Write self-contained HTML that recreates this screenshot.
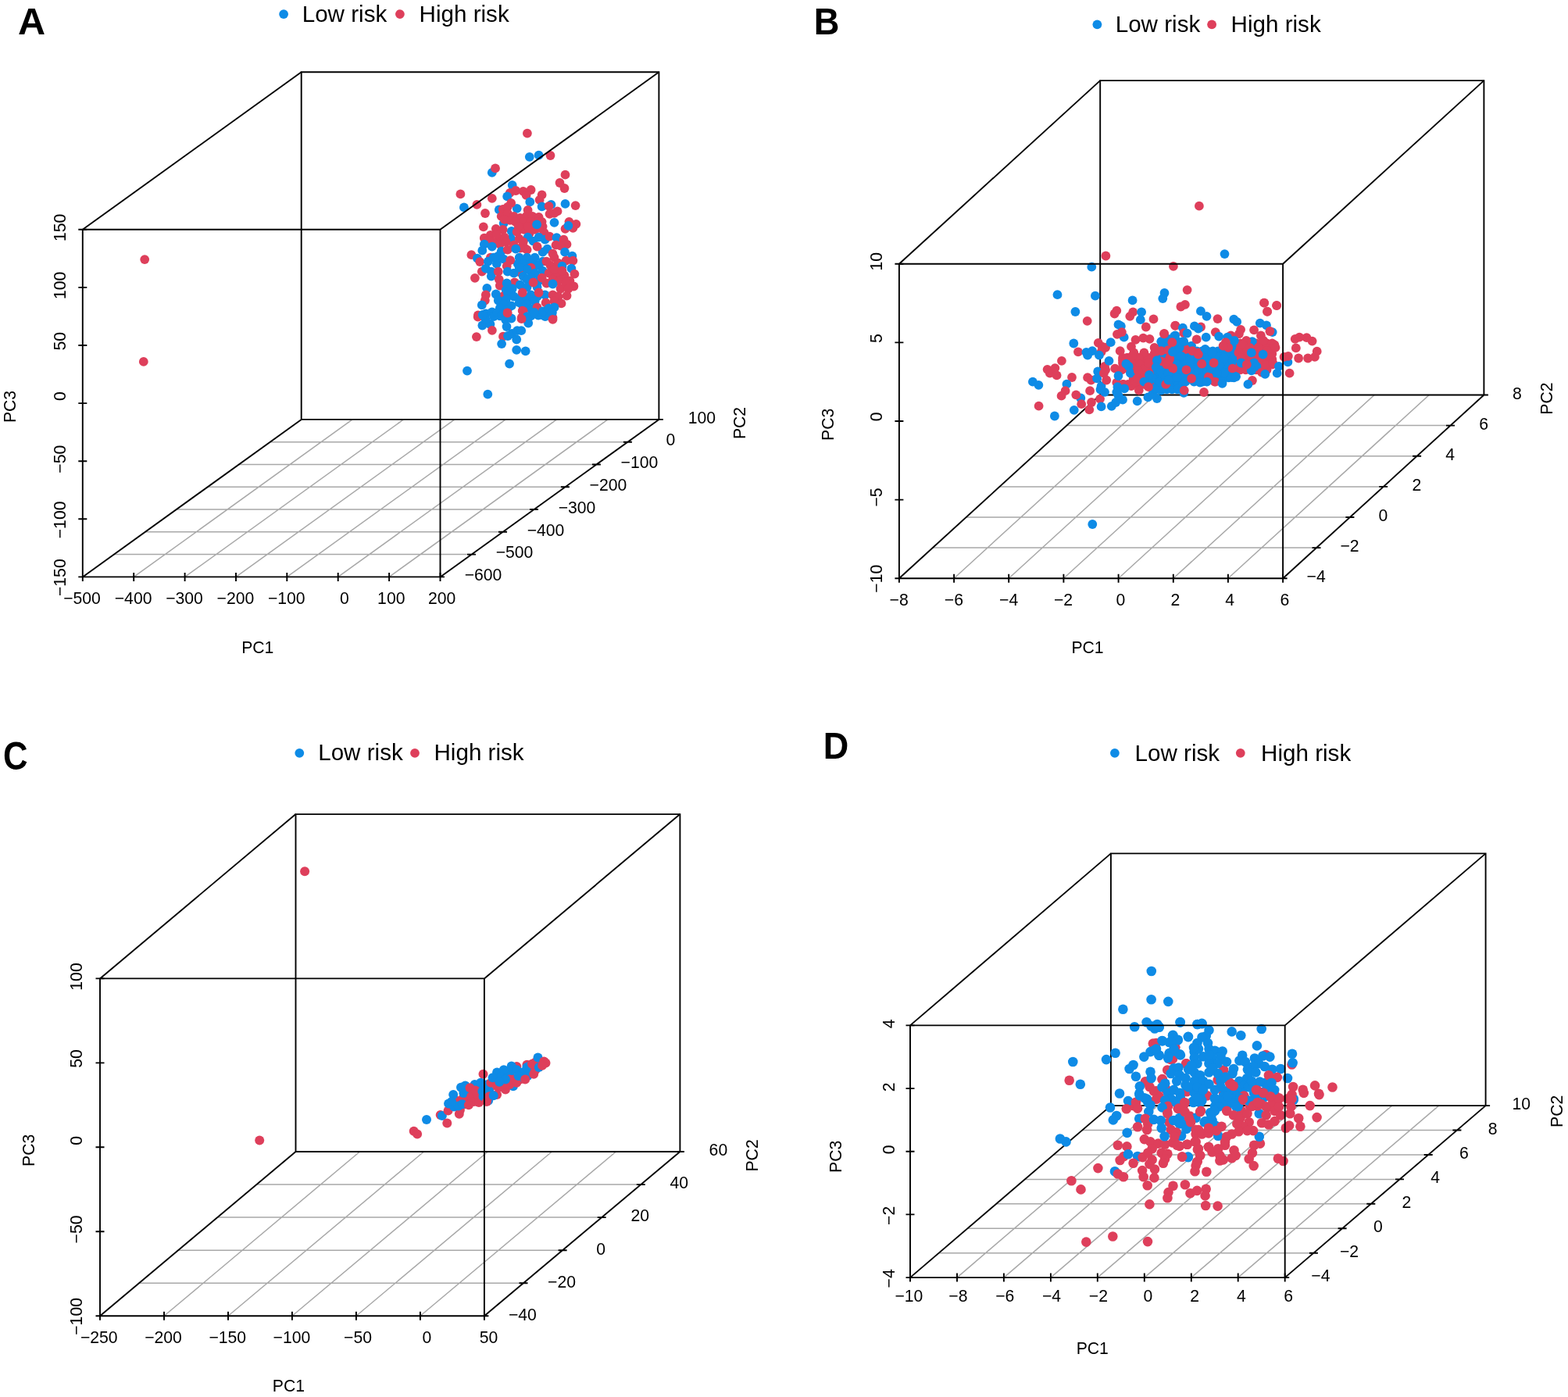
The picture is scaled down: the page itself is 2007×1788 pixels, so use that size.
<!DOCTYPE html>
<html lang="en">
<head>
<meta charset="utf-8">
<title>PCA 3D scatter plots: low risk vs high risk</title>
<style>
html,body{margin:0;padding:0;background:#fff;}
body{width:2007px;height:1788px;overflow:hidden;}
svg{display:block;}
text{font-family:"Liberation Sans",Arial,Helvetica,sans-serif;fill:#000;}
.grid{fill:none;stroke:#A8A8A8;stroke-width:1.5;}
.ax{fill:none;stroke:#000;stroke-width:1.9;stroke-linecap:butt;stroke-linejoin:miter;}
.b{fill:#0E8BE6;}
.r{fill:#DE3F5B;}
.tk text{font-size:21.2px;text-anchor:middle;}
.tl{font-size:21.2px;}
.tc{text-anchor:middle;}
.pl{font-size:46.6px;font-weight:bold;}
.lg{font-size:29.6px;}
</style>
</head>
<body>
<svg xmlns="http://www.w3.org/2000/svg" width="2007" height="1788" viewBox="0 0 2007 1788">
<rect width="2007" height="1788" fill="#fff"/>
<g id="panel-A">
<path class="grid" d="M145.8 709.6H603.5M185.8 680.8H643.5M225.8 652H683.5M265.7 623.3H723.4M305.7 594.5H763.4M345.7 565.7H803.4M171.2 738.4L451.1 536.9M236.6 738.4L516.5 536.9M302 738.4L581.9 536.9M367.3 738.4L647.2 536.9M432.7 738.4L712.6 536.9M498.1 738.4L778 536.9"/>
<path class="ax" d="M385.7 536.9V92.3H843.4V536.9ZM105.8 738.4L385.7 536.9M563.5 738.4L843.4 536.9M105.8 738.4H563.5M105.8 738.4V293.8M105.8 732.9V743.9M171.2 732.9V743.9M236.6 732.9V743.9M302 732.9V743.9M367.3 732.9V743.9M432.7 732.9V743.9M498.1 732.9V743.9M563.5 732.9V743.9M100.3 738.4H111.3M100.3 664.3H111.3M100.3 590.2H111.3M100.3 516.1H111.3M100.3 442H111.3M100.3 367.9H111.3M100.3 293.8H111.3M558 738.4H569M598 709.6H609M638 680.8H649M678 652H689M717.9 623.3H728.9M757.9 594.5H768.9M797.9 565.7H808.9M837.9 536.9H848.9"/>
<g class="pts">
<circle cx="185.2" cy="332.1" r="5.9" class="r"/>
<circle cx="183.8" cy="462.9" r="5.9" class="r"/>
<circle cx="674.9" cy="170.6" r="5.9" class="r"/>
<circle cx="677.8" cy="200.8" r="5.9" class="b"/>
<circle cx="689.6" cy="198.6" r="5.9" class="b"/>
<circle cx="704.5" cy="199" r="5.9" class="r"/>
<circle cx="629.8" cy="220.9" r="5.9" class="b"/>
<circle cx="634" cy="215.4" r="5.9" class="r"/>
<circle cx="723.5" cy="223.7" r="5.9" class="r"/>
<circle cx="655.7" cy="237" r="5.9" class="b"/>
<circle cx="716.5" cy="234" r="5.9" class="r"/>
<circle cx="722.5" cy="241" r="5.9" class="r"/>
<circle cx="652.7" cy="246.9" r="5.9" class="r"/>
<circle cx="660.2" cy="244" r="5.9" class="r"/>
<circle cx="669.7" cy="244.9" r="5.9" class="r"/>
<circle cx="679.6" cy="243" r="5.9" class="r"/>
<circle cx="673.6" cy="249.9" r="5.9" class="r"/>
<circle cx="649.2" cy="251.4" r="5.9" class="b"/>
<circle cx="589.4" cy="248.4" r="5.9" class="r"/>
<circle cx="629.8" cy="253.9" r="5.9" class="r"/>
<circle cx="693.6" cy="249.4" r="5.9" class="r"/>
<circle cx="690.6" cy="255.9" r="5.9" class="r"/>
<circle cx="593.9" cy="265.4" r="5.9" class="b"/>
<circle cx="610.4" cy="261.9" r="5.9" class="r"/>
<circle cx="678.3" cy="258.4" r="5.9" class="b"/>
<circle cx="705.5" cy="261.9" r="5.9" class="b"/>
<circle cx="693.6" cy="264.4" r="5.9" class="b"/>
<circle cx="702.5" cy="263.9" r="5.9" class="r"/>
<circle cx="723.5" cy="260.9" r="5.9" class="b"/>
<circle cx="736.6" cy="263.1" r="5.9" class="r"/>
<circle cx="638.8" cy="268.4" r="5.9" class="b"/>
<circle cx="661.7" cy="266.9" r="5.9" class="b"/>
<circle cx="654.2" cy="259.9" r="5.9" class="r"/>
<circle cx="643.7" cy="267.9" r="5.9" class="r"/>
<circle cx="649.7" cy="264.9" r="5.9" class="r"/>
<circle cx="675.6" cy="268.9" r="5.9" class="r"/>
<circle cx="713.5" cy="270.4" r="5.9" class="r"/>
<circle cx="703.5" cy="273.8" r="5.9" class="r"/>
<circle cx="709.5" cy="272.9" r="5.9" class="r"/>
<circle cx="621" cy="273" r="5.9" class="r"/>
<circle cx="644.7" cy="285.8" r="5.9" class="b"/>
<circle cx="641.7" cy="276.8" r="5.9" class="r"/>
<circle cx="649.7" cy="272.9" r="5.9" class="r"/>
<circle cx="657.7" cy="276.8" r="5.9" class="r"/>
<circle cx="665.7" cy="278.8" r="5.9" class="r"/>
<circle cx="673.6" cy="276.8" r="5.9" class="r"/>
<circle cx="681.6" cy="276.8" r="5.9" class="r"/>
<circle cx="689.6" cy="277.8" r="5.9" class="r"/>
<circle cx="652.7" cy="281.8" r="5.9" class="r"/>
<circle cx="669.7" cy="283.8" r="5.9" class="r"/>
<circle cx="687.6" cy="283.8" r="5.9" class="r"/>
<circle cx="645.7" cy="280.8" r="5.9" class="r"/>
<circle cx="659.7" cy="283.8" r="5.9" class="r"/>
<circle cx="679.6" cy="283.8" r="5.9" class="r"/>
<circle cx="693.6" cy="283.8" r="5.9" class="r"/>
<circle cx="709.5" cy="284.8" r="5.9" class="b"/>
<circle cx="728.4" cy="283.8" r="5.9" class="r"/>
<circle cx="737.4" cy="286.8" r="5.9" class="r"/>
<circle cx="723.5" cy="292.8" r="5.9" class="r"/>
<circle cx="733.4" cy="291.8" r="5.9" class="r"/>
<circle cx="727.4" cy="288.8" r="5.9" class="b"/>
<circle cx="618.8" cy="290.3" r="5.9" class="r"/>
<circle cx="654.7" cy="295.8" r="5.9" class="b"/>
<circle cx="634.8" cy="292.8" r="5.9" class="r"/>
<circle cx="643.7" cy="293.8" r="5.9" class="r"/>
<circle cx="661.7" cy="296.8" r="5.9" class="r"/>
<circle cx="670.6" cy="293.8" r="5.9" class="r"/>
<circle cx="677.6" cy="298.8" r="5.9" class="r"/>
<circle cx="694.6" cy="289.8" r="5.9" class="r"/>
<circle cx="696.6" cy="297.8" r="5.9" class="r"/>
<circle cx="684.6" cy="293.8" r="5.9" class="r"/>
<circle cx="663.7" cy="289.8" r="5.9" class="r"/>
<circle cx="675.6" cy="289.8" r="5.9" class="r"/>
<circle cx="689.6" cy="291.8" r="5.9" class="r"/>
<circle cx="687.1" cy="287.3" r="5.9" class="b"/>
<circle cx="654.2" cy="305.7" r="5.9" class="b"/>
<circle cx="675.6" cy="303.7" r="5.9" class="b"/>
<circle cx="689.6" cy="303.7" r="5.9" class="b"/>
<circle cx="697.6" cy="306.7" r="5.9" class="b"/>
<circle cx="682.6" cy="308.7" r="5.9" class="b"/>
<circle cx="619.8" cy="304.7" r="5.9" class="r"/>
<circle cx="627.8" cy="300.8" r="5.9" class="r"/>
<circle cx="637.8" cy="305.7" r="5.9" class="r"/>
<circle cx="645.7" cy="303.7" r="5.9" class="r"/>
<circle cx="631.8" cy="310.7" r="5.9" class="r"/>
<circle cx="639.8" cy="312.7" r="5.9" class="r"/>
<circle cx="625.8" cy="307.7" r="5.9" class="r"/>
<circle cx="635.8" cy="299.8" r="5.9" class="r"/>
<circle cx="647.7" cy="309.7" r="5.9" class="r"/>
<circle cx="664.7" cy="305.7" r="5.9" class="r"/>
<circle cx="669.7" cy="309.7" r="5.9" class="r"/>
<circle cx="703.5" cy="302.7" r="5.9" class="r"/>
<circle cx="712.5" cy="304.2" r="5.9" class="b"/>
<circle cx="721.5" cy="306.7" r="5.9" class="r"/>
<circle cx="725.5" cy="312.7" r="5.9" class="r"/>
<circle cx="711.5" cy="313.7" r="5.9" class="r"/>
<circle cx="717.5" cy="314.7" r="5.9" class="r"/>
<circle cx="619.8" cy="312.7" r="5.9" class="b"/>
<circle cx="629.8" cy="315.7" r="5.9" class="b"/>
<circle cx="617.3" cy="320.7" r="5.9" class="b"/>
<circle cx="641.7" cy="321.7" r="5.9" class="b"/>
<circle cx="637.8" cy="327.7" r="5.9" class="b"/>
<circle cx="649.7" cy="319.7" r="5.9" class="r"/>
<circle cx="671.6" cy="317.7" r="5.9" class="r"/>
<circle cx="674.6" cy="319.7" r="5.9" class="r"/>
<circle cx="657.7" cy="313.7" r="5.9" class="r"/>
<circle cx="665.7" cy="317.7" r="5.9" class="r"/>
<circle cx="660.2" cy="318.7" r="5.9" class="b"/>
<circle cx="700.5" cy="318.7" r="5.9" class="b"/>
<circle cx="694.6" cy="322.7" r="5.9" class="b"/>
<circle cx="687.6" cy="315.7" r="5.9" class="r"/>
<circle cx="723" cy="322.7" r="5.9" class="b"/>
<circle cx="732.4" cy="327.7" r="5.9" class="b"/>
<circle cx="707.5" cy="324.7" r="5.9" class="r"/>
<circle cx="709.5" cy="329.7" r="5.9" class="r"/>
<circle cx="603.4" cy="326.2" r="5.9" class="r"/>
<circle cx="610.9" cy="330.6" r="5.9" class="b"/>
<circle cx="627.8" cy="329.7" r="5.9" class="r"/>
<circle cx="614.3" cy="335.1" r="5.9" class="r"/>
<circle cx="624.8" cy="334.6" r="5.9" class="b"/>
<circle cx="635.8" cy="337.6" r="5.9" class="b"/>
<circle cx="631.8" cy="329.7" r="5.9" class="b"/>
<circle cx="682.6" cy="333.6" r="5.9" class="r"/>
<circle cx="679.6" cy="335.6" r="5.9" class="b"/>
<circle cx="687.6" cy="339.6" r="5.9" class="b"/>
<circle cx="669.7" cy="344.6" r="5.9" class="b"/>
<circle cx="679.6" cy="347.6" r="5.9" class="b"/>
<circle cx="664.7" cy="329.7" r="5.9" class="b"/>
<circle cx="674.6" cy="329.7" r="5.9" class="b"/>
<circle cx="684.6" cy="329.7" r="5.9" class="b"/>
<circle cx="694.6" cy="334.6" r="5.9" class="b"/>
<circle cx="662.7" cy="337.6" r="5.9" class="b"/>
<circle cx="669.7" cy="337.6" r="5.9" class="b"/>
<circle cx="679.6" cy="337.6" r="5.9" class="b"/>
<circle cx="689.6" cy="339.6" r="5.9" class="b"/>
<circle cx="644.7" cy="331.6" r="5.9" class="b"/>
<circle cx="653.2" cy="333.1" r="5.9" class="r"/>
<circle cx="648.7" cy="340.6" r="5.9" class="r"/>
<circle cx="733.4" cy="333.6" r="5.9" class="r"/>
<circle cx="724.5" cy="333.6" r="5.9" class="r"/>
<circle cx="714.5" cy="336.6" r="5.9" class="r"/>
<circle cx="704.5" cy="339.6" r="5.9" class="r"/>
<circle cx="699.5" cy="334.6" r="5.9" class="r"/>
<circle cx="719.5" cy="340.6" r="5.9" class="b"/>
<circle cx="731.4" cy="343.6" r="5.9" class="b"/>
<circle cx="616.8" cy="347.6" r="5.9" class="r"/>
<circle cx="621.8" cy="343.6" r="5.9" class="b"/>
<circle cx="628.8" cy="347.6" r="5.9" class="b"/>
<circle cx="628.8" cy="353.6" r="5.9" class="b"/>
<circle cx="637.8" cy="347.6" r="5.9" class="r"/>
<circle cx="665.7" cy="348.6" r="5.9" class="r"/>
<circle cx="679.6" cy="342.6" r="5.9" class="r"/>
<circle cx="649.7" cy="347.6" r="5.9" class="b"/>
<circle cx="674.6" cy="344.6" r="5.9" class="b"/>
<circle cx="684.6" cy="349.6" r="5.9" class="b"/>
<circle cx="694.6" cy="346.6" r="5.9" class="b"/>
<circle cx="657.7" cy="349.6" r="5.9" class="b"/>
<circle cx="669.7" cy="353.6" r="5.9" class="b"/>
<circle cx="679.6" cy="355.6" r="5.9" class="b"/>
<circle cx="664.7" cy="342.6" r="5.9" class="b"/>
<circle cx="702.5" cy="349.6" r="5.9" class="r"/>
<circle cx="712.5" cy="351.6" r="5.9" class="r"/>
<circle cx="722.5" cy="352.6" r="5.9" class="r"/>
<circle cx="735.4" cy="350.6" r="5.9" class="r"/>
<circle cx="729.4" cy="359.5" r="5.9" class="r"/>
<circle cx="709.5" cy="344.6" r="5.9" class="r"/>
<circle cx="719.5" cy="346.6" r="5.9" class="r"/>
<circle cx="607.9" cy="355.8" r="5.9" class="r"/>
<circle cx="638.8" cy="357.6" r="5.9" class="r"/>
<circle cx="639.8" cy="365.5" r="5.9" class="r"/>
<circle cx="658.7" cy="361.5" r="5.9" class="r"/>
<circle cx="648.7" cy="362.5" r="5.9" class="b"/>
<circle cx="665.7" cy="364.5" r="5.9" class="b"/>
<circle cx="674.6" cy="357.6" r="5.9" class="b"/>
<circle cx="655.7" cy="369.5" r="5.9" class="b"/>
<circle cx="674.6" cy="367.5" r="5.9" class="b"/>
<circle cx="687.6" cy="367.5" r="5.9" class="b"/>
<circle cx="689.6" cy="359.5" r="5.9" class="b"/>
<circle cx="647.7" cy="371.5" r="5.9" class="b"/>
<circle cx="699.5" cy="362.5" r="5.9" class="r"/>
<circle cx="714.5" cy="359.5" r="5.9" class="r"/>
<circle cx="724.5" cy="361.5" r="5.9" class="r"/>
<circle cx="734.4" cy="366.5" r="5.9" class="r"/>
<circle cx="717.5" cy="369.5" r="5.9" class="r"/>
<circle cx="707.5" cy="357.6" r="5.9" class="r"/>
<circle cx="727.4" cy="369.5" r="5.9" class="r"/>
<circle cx="682.6" cy="361.5" r="5.9" class="r"/>
<circle cx="693.6" cy="355.6" r="5.9" class="r"/>
<circle cx="707.5" cy="363.5" r="5.9" class="b"/>
<circle cx="623.3" cy="369" r="5.9" class="b"/>
<circle cx="621.8" cy="377.5" r="5.9" class="r"/>
<circle cx="620.8" cy="384.5" r="5.9" class="r"/>
<circle cx="643.7" cy="379.5" r="5.9" class="r"/>
<circle cx="634.8" cy="376.5" r="5.9" class="b"/>
<circle cx="637.8" cy="384.5" r="5.9" class="b"/>
<circle cx="649.7" cy="374.5" r="5.9" class="b"/>
<circle cx="657.7" cy="379.5" r="5.9" class="b"/>
<circle cx="679.6" cy="377.5" r="5.9" class="b"/>
<circle cx="697.6" cy="377.5" r="5.9" class="b"/>
<circle cx="665.7" cy="381.5" r="5.9" class="b"/>
<circle cx="674.6" cy="382.5" r="5.9" class="b"/>
<circle cx="647.7" cy="383.5" r="5.9" class="b"/>
<circle cx="687.6" cy="379.5" r="5.9" class="b"/>
<circle cx="707.5" cy="377.5" r="5.9" class="r"/>
<circle cx="714.5" cy="379.5" r="5.9" class="r"/>
<circle cx="725.5" cy="378.5" r="5.9" class="r"/>
<circle cx="709.5" cy="385.5" r="5.9" class="r"/>
<circle cx="668.7" cy="374.5" r="5.9" class="r"/>
<circle cx="689.6" cy="374.5" r="5.9" class="r"/>
<circle cx="616.8" cy="390.4" r="5.9" class="b"/>
<circle cx="644.7" cy="389.4" r="5.9" class="b"/>
<circle cx="654.7" cy="391.4" r="5.9" class="b"/>
<circle cx="664.7" cy="387.4" r="5.9" class="b"/>
<circle cx="674.6" cy="389.4" r="5.9" class="b"/>
<circle cx="684.6" cy="385.5" r="5.9" class="b"/>
<circle cx="639.8" cy="394.4" r="5.9" class="b"/>
<circle cx="679.6" cy="395.4" r="5.9" class="b"/>
<circle cx="669.7" cy="393.4" r="5.9" class="b"/>
<circle cx="649.7" cy="396.4" r="5.9" class="b"/>
<circle cx="687.6" cy="393.4" r="5.9" class="r"/>
<circle cx="718.5" cy="388.4" r="5.9" class="r"/>
<circle cx="709.5" cy="393.4" r="5.9" class="b"/>
<circle cx="699.5" cy="397.4" r="5.9" class="b"/>
<circle cx="698.6" cy="387.4" r="5.9" class="r"/>
<circle cx="611.9" cy="403.4" r="5.9" class="r"/>
<circle cx="621.8" cy="401.4" r="5.9" class="b"/>
<circle cx="629.8" cy="399.4" r="5.9" class="b"/>
<circle cx="639.8" cy="404.4" r="5.9" class="b"/>
<circle cx="669.7" cy="398.4" r="5.9" class="r"/>
<circle cx="679.6" cy="404.4" r="5.9" class="b"/>
<circle cx="694.6" cy="403.4" r="5.9" class="b"/>
<circle cx="649.4" cy="400.4" r="5.9" class="r"/>
<circle cx="667.7" cy="406.4" r="5.9" class="r"/>
<circle cx="707.5" cy="406.4" r="5.9" class="r"/>
<circle cx="668.7" cy="397.7" r="5.9" class="r"/>
<circle cx="611.7" cy="405.6" r="5.9" class="r"/>
<circle cx="617.4" cy="416.5" r="5.9" class="b"/>
<circle cx="627.5" cy="415" r="5.9" class="b"/>
<circle cx="621.5" cy="409" r="5.9" class="b"/>
<circle cx="632" cy="405.2" r="5.9" class="b"/>
<circle cx="617.7" cy="403" r="5.9" class="b"/>
<circle cx="636.5" cy="400" r="5.9" class="b"/>
<circle cx="642.5" cy="403.7" r="5.9" class="b"/>
<circle cx="647" cy="409" r="5.9" class="b"/>
<circle cx="654.5" cy="407.5" r="5.9" class="b"/>
<circle cx="648.5" cy="418" r="5.9" class="b"/>
<circle cx="629.9" cy="422.8" r="5.9" class="r"/>
<circle cx="649.6" cy="400.7" r="5.9" class="r"/>
<circle cx="676.2" cy="413.5" r="5.9" class="b"/>
<circle cx="674.7" cy="405.2" r="5.9" class="b"/>
<circle cx="667.6" cy="408.2" r="5.9" class="r"/>
<circle cx="689" cy="403.7" r="5.9" class="b"/>
<circle cx="697.9" cy="405.2" r="5.9" class="b"/>
<circle cx="683.7" cy="400" r="5.9" class="b"/>
<circle cx="694.9" cy="398.5" r="5.9" class="b"/>
<circle cx="702.4" cy="394.7" r="5.9" class="b"/>
<circle cx="706.9" cy="400" r="5.9" class="b"/>
<circle cx="707.5" cy="408.8" r="5.9" class="r"/>
<circle cx="644" cy="430.7" r="5.9" class="r"/>
<circle cx="650" cy="430" r="5.9" class="b"/>
<circle cx="655.2" cy="427" r="5.9" class="b"/>
<circle cx="662" cy="423.2" r="5.9" class="b"/>
<circle cx="667.2" cy="423.2" r="5.9" class="b"/>
<circle cx="661.2" cy="434.5" r="5.9" class="b"/>
<circle cx="609.9" cy="431.1" r="5.9" class="r"/>
<circle cx="642.1" cy="440.1" r="5.9" class="b"/>
<circle cx="661.2" cy="447.8" r="5.9" class="b"/>
<circle cx="672.7" cy="449.3" r="5.9" class="b"/>
<circle cx="652.1" cy="465.6" r="5.9" class="b"/>
<circle cx="598" cy="474.6" r="5.9" class="b"/>
<circle cx="624.3" cy="504.6" r="5.9" class="b"/>
</g>
<path class="ax" d="M105.8 293.8H563.5V738.4M105.8 293.8L385.7 92.3M563.5 293.8L843.4 92.3"/>
<g class="tk">
<text x="105" y="773.4">−500</text>
<text x="170.6" y="773.4">−400</text>
<text x="236" y="773.4">−300</text>
<text x="301.4" y="773.4">−200</text>
<text x="366.8" y="773.4">−100</text>
<text x="441" y="773.4">0</text>
<text x="500.8" y="773.4">100</text>
<text x="565.7" y="773.4">200</text>
<text transform="translate(83.7 739.2) rotate(-90)">−150</text>
<text transform="translate(83.7 665.4) rotate(-90)">−100</text>
<text transform="translate(83.7 587.7) rotate(-90)">−50</text>
<text transform="translate(83.7 507) rotate(-90)">0</text>
<text transform="translate(83.7 436.7) rotate(-90)">50</text>
<text transform="translate(83.7 365.4) rotate(-90)">100</text>
<text transform="translate(83.7 291.3) rotate(-90)">150</text>
<text x="618.5" y="743.1">−600</text>
<text x="658.5" y="714.3">−500</text>
<text x="698.5" y="685.5">−400</text>
<text x="738.5" y="656.7">−300</text>
<text x="778.4" y="628">−200</text>
<text x="818.4" y="599.2">−100</text>
<text x="858.4" y="570.4">0</text>
<text x="898.4" y="541.6">100</text>
</g>
<text class="tl" x="309.2" y="836.1">PC1</text>
<text class="tl tc" transform="translate(19.8 520.5) rotate(-90)">PC3</text>
<text class="tl tc" transform="translate(953.6 541.5) rotate(-90)">PC2</text>
<text class="pl" transform="translate(23.1 43.5) scale(1.043 1.025)">A</text>
<circle cx="363.1" cy="18.1" r="5.9" class="b"/>
<text class="lg" x="386.7" y="27.9">Low risk</text>
<circle cx="511.9" cy="18.1" r="5.9" class="r"/>
<text class="lg" x="536.6" y="27.9">High risk</text>
</g>
<g id="panel-B">
<path class="grid" d="M1193.8 701.1H1685M1236.7 662H1727.9M1279.6 622.9H1770.8M1322.4 583.7H1813.6M1365.3 544.6H1856.5M1221.1 740.2L1478.4 505.5M1291.2 740.2L1548.5 505.5M1361.4 740.2L1618.7 505.5M1431.6 740.2L1688.9 505.5M1501.8 740.2L1759.1 505.5M1571.9 740.2L1829.2 505.5"/>
<path class="ax" d="M1408.2 505.5V103.1H1899.4V505.5ZM1150.9 740.2L1408.2 505.5M1642.1 740.2L1899.4 505.5M1150.9 740.2H1642.1M1150.9 740.2V337.8M1150.9 734.7V745.7M1221.1 734.7V745.7M1291.2 734.7V745.7M1361.4 734.7V745.7M1431.6 734.7V745.7M1501.8 734.7V745.7M1571.9 734.7V745.7M1642.1 734.7V745.7M1145.4 740.2H1156.4M1145.4 639.6H1156.4M1145.4 539H1156.4M1145.4 438.4H1156.4M1145.4 337.8H1156.4M1636.6 740.2H1647.6M1679.5 701.1H1690.5M1722.4 662H1733.4M1765.2 622.9H1776.2M1808.1 583.7H1819.1M1851 544.6H1862M1893.9 505.5H1904.9"/>
<g class="pts">
<circle cx="1398.3" cy="671" r="5.9" class="b"/>
<circle cx="1415.4" cy="327.5" r="5.9" class="r"/>
<circle cx="1397.3" cy="341.7" r="5.9" class="b"/>
<circle cx="1501.9" cy="340.8" r="5.9" class="r"/>
<circle cx="1353.5" cy="377.2" r="5.9" class="b"/>
<circle cx="1401.9" cy="378.7" r="5.9" class="b"/>
<circle cx="1449.6" cy="384.4" r="5.9" class="b"/>
<circle cx="1490.5" cy="375" r="5.9" class="b"/>
<circle cx="1488.3" cy="382.1" r="5.9" class="b"/>
<circle cx="1534.9" cy="263.7" r="5.9" class="r"/>
<circle cx="1567.5" cy="325.1" r="5.9" class="b"/>
<circle cx="1519.6" cy="371.1" r="5.9" class="r"/>
<circle cx="1516.9" cy="389.8" r="5.9" class="r"/>
<circle cx="1511.4" cy="392.5" r="5.9" class="r"/>
<circle cx="1618" cy="387.6" r="5.9" class="r"/>
<circle cx="1634.1" cy="390.9" r="5.9" class="r"/>
<circle cx="1622.1" cy="398.7" r="5.9" class="r"/>
<circle cx="1491.1" cy="442.6" r="5.9" class="b"/>
<circle cx="1497.9" cy="442.6" r="5.9" class="b"/>
<circle cx="1504.7" cy="442.6" r="5.9" class="b"/>
<circle cx="1511.5" cy="442.6" r="5.9" class="b"/>
<circle cx="1518.3" cy="442.6" r="5.9" class="b"/>
<circle cx="1525.1" cy="442.6" r="5.9" class="b"/>
<circle cx="1565.9" cy="442.6" r="5.9" class="b"/>
<circle cx="1572.6" cy="442.6" r="5.9" class="b"/>
<circle cx="1579.4" cy="442.6" r="5.9" class="b"/>
<circle cx="1491.1" cy="449.4" r="5.9" class="b"/>
<circle cx="1497.9" cy="449.4" r="5.9" class="b"/>
<circle cx="1504.7" cy="449.4" r="5.9" class="b"/>
<circle cx="1511.5" cy="449.4" r="5.9" class="b"/>
<circle cx="1518.3" cy="449.4" r="5.9" class="b"/>
<circle cx="1525.1" cy="449.4" r="5.9" class="b"/>
<circle cx="1531.9" cy="449.4" r="5.9" class="b"/>
<circle cx="1538.7" cy="449.4" r="5.9" class="b"/>
<circle cx="1545.5" cy="449.4" r="5.9" class="b"/>
<circle cx="1552.3" cy="449.4" r="5.9" class="b"/>
<circle cx="1559.1" cy="449.4" r="5.9" class="b"/>
<circle cx="1565.9" cy="449.4" r="5.9" class="b"/>
<circle cx="1572.6" cy="449.4" r="5.9" class="b"/>
<circle cx="1579.4" cy="449.4" r="5.9" class="b"/>
<circle cx="1491.1" cy="456.2" r="5.9" class="b"/>
<circle cx="1497.9" cy="456.2" r="5.9" class="b"/>
<circle cx="1504.7" cy="456.2" r="5.9" class="b"/>
<circle cx="1511.5" cy="456.2" r="5.9" class="b"/>
<circle cx="1518.3" cy="456.2" r="5.9" class="b"/>
<circle cx="1525.1" cy="456.2" r="5.9" class="b"/>
<circle cx="1531.9" cy="456.2" r="5.9" class="b"/>
<circle cx="1538.7" cy="456.2" r="5.9" class="b"/>
<circle cx="1545.5" cy="456.2" r="5.9" class="b"/>
<circle cx="1552.3" cy="456.2" r="5.9" class="b"/>
<circle cx="1559.1" cy="456.2" r="5.9" class="b"/>
<circle cx="1565.9" cy="456.2" r="5.9" class="b"/>
<circle cx="1572.6" cy="456.2" r="5.9" class="b"/>
<circle cx="1579.4" cy="456.2" r="5.9" class="b"/>
<circle cx="1491.1" cy="463" r="5.9" class="b"/>
<circle cx="1497.9" cy="463" r="5.9" class="b"/>
<circle cx="1504.7" cy="463" r="5.9" class="b"/>
<circle cx="1511.5" cy="463" r="5.9" class="b"/>
<circle cx="1518.3" cy="463" r="5.9" class="b"/>
<circle cx="1525.1" cy="463" r="5.9" class="b"/>
<circle cx="1531.9" cy="463" r="5.9" class="b"/>
<circle cx="1538.7" cy="463" r="5.9" class="b"/>
<circle cx="1545.5" cy="463" r="5.9" class="b"/>
<circle cx="1552.3" cy="463" r="5.9" class="b"/>
<circle cx="1559.1" cy="463" r="5.9" class="b"/>
<circle cx="1565.9" cy="463" r="5.9" class="b"/>
<circle cx="1572.6" cy="463" r="5.9" class="b"/>
<circle cx="1579.4" cy="463" r="5.9" class="b"/>
<circle cx="1491.1" cy="469.8" r="5.9" class="b"/>
<circle cx="1497.9" cy="469.8" r="5.9" class="b"/>
<circle cx="1504.7" cy="469.8" r="5.9" class="b"/>
<circle cx="1511.5" cy="469.8" r="5.9" class="b"/>
<circle cx="1518.3" cy="469.8" r="5.9" class="b"/>
<circle cx="1525.1" cy="469.8" r="5.9" class="b"/>
<circle cx="1531.9" cy="469.8" r="5.9" class="b"/>
<circle cx="1538.7" cy="469.8" r="5.9" class="b"/>
<circle cx="1545.5" cy="469.8" r="5.9" class="b"/>
<circle cx="1552.3" cy="469.8" r="5.9" class="b"/>
<circle cx="1559.1" cy="469.8" r="5.9" class="b"/>
<circle cx="1565.9" cy="469.8" r="5.9" class="b"/>
<circle cx="1572.6" cy="469.8" r="5.9" class="b"/>
<circle cx="1579.4" cy="469.8" r="5.9" class="b"/>
<circle cx="1491.1" cy="476.6" r="5.9" class="b"/>
<circle cx="1497.9" cy="476.6" r="5.9" class="b"/>
<circle cx="1504.7" cy="476.6" r="5.9" class="b"/>
<circle cx="1511.5" cy="476.6" r="5.9" class="b"/>
<circle cx="1518.3" cy="476.6" r="5.9" class="b"/>
<circle cx="1525.1" cy="476.6" r="5.9" class="b"/>
<circle cx="1531.9" cy="476.6" r="5.9" class="b"/>
<circle cx="1538.7" cy="476.6" r="5.9" class="b"/>
<circle cx="1545.5" cy="476.6" r="5.9" class="b"/>
<circle cx="1552.3" cy="476.6" r="5.9" class="b"/>
<circle cx="1559.1" cy="476.6" r="5.9" class="b"/>
<circle cx="1565.9" cy="476.6" r="5.9" class="b"/>
<circle cx="1572.6" cy="476.6" r="5.9" class="b"/>
<circle cx="1579.4" cy="476.6" r="5.9" class="b"/>
<circle cx="1491.1" cy="483.4" r="5.9" class="b"/>
<circle cx="1497.9" cy="483.4" r="5.9" class="b"/>
<circle cx="1504.7" cy="483.4" r="5.9" class="b"/>
<circle cx="1511.5" cy="483.4" r="5.9" class="b"/>
<circle cx="1518.3" cy="483.4" r="5.9" class="b"/>
<circle cx="1525.1" cy="483.4" r="5.9" class="b"/>
<circle cx="1531.9" cy="483.4" r="5.9" class="b"/>
<circle cx="1538.7" cy="483.4" r="5.9" class="b"/>
<circle cx="1545.5" cy="483.4" r="5.9" class="b"/>
<circle cx="1552.3" cy="483.4" r="5.9" class="b"/>
<circle cx="1559.1" cy="483.4" r="5.9" class="b"/>
<circle cx="1565.9" cy="483.4" r="5.9" class="b"/>
<circle cx="1572.6" cy="483.4" r="5.9" class="b"/>
<circle cx="1579.4" cy="483.4" r="5.9" class="b"/>
<circle cx="1587.6" cy="439.3" r="5.9" class="r"/>
<circle cx="1594.4" cy="439.3" r="5.9" class="r"/>
<circle cx="1601.1" cy="439.3" r="5.9" class="r"/>
<circle cx="1607.9" cy="439.3" r="5.9" class="r"/>
<circle cx="1614.7" cy="439.3" r="5.9" class="r"/>
<circle cx="1621.5" cy="439.3" r="5.9" class="r"/>
<circle cx="1628.3" cy="439.3" r="5.9" class="r"/>
<circle cx="1587.6" cy="446.1" r="5.9" class="r"/>
<circle cx="1594.4" cy="446.1" r="5.9" class="r"/>
<circle cx="1601.1" cy="446.1" r="5.9" class="r"/>
<circle cx="1607.9" cy="446.1" r="5.9" class="r"/>
<circle cx="1614.7" cy="446.1" r="5.9" class="r"/>
<circle cx="1621.5" cy="446.1" r="5.9" class="r"/>
<circle cx="1628.3" cy="446.1" r="5.9" class="r"/>
<circle cx="1587.6" cy="452.9" r="5.9" class="r"/>
<circle cx="1594.4" cy="452.9" r="5.9" class="r"/>
<circle cx="1601.1" cy="452.9" r="5.9" class="r"/>
<circle cx="1607.9" cy="452.9" r="5.9" class="r"/>
<circle cx="1614.7" cy="452.9" r="5.9" class="r"/>
<circle cx="1621.5" cy="452.9" r="5.9" class="r"/>
<circle cx="1628.3" cy="452.9" r="5.9" class="r"/>
<circle cx="1587.6" cy="459.7" r="5.9" class="r"/>
<circle cx="1594.4" cy="459.7" r="5.9" class="r"/>
<circle cx="1601.1" cy="459.7" r="5.9" class="r"/>
<circle cx="1607.9" cy="459.7" r="5.9" class="r"/>
<circle cx="1614.7" cy="459.7" r="5.9" class="r"/>
<circle cx="1621.5" cy="459.7" r="5.9" class="r"/>
<circle cx="1628.3" cy="459.7" r="5.9" class="r"/>
<circle cx="1587.6" cy="466.5" r="5.9" class="r"/>
<circle cx="1594.4" cy="466.5" r="5.9" class="r"/>
<circle cx="1601.1" cy="466.5" r="5.9" class="r"/>
<circle cx="1607.9" cy="466.5" r="5.9" class="r"/>
<circle cx="1614.7" cy="466.5" r="5.9" class="r"/>
<circle cx="1621.5" cy="466.5" r="5.9" class="r"/>
<circle cx="1628.3" cy="466.5" r="5.9" class="r"/>
<circle cx="1587.6" cy="473.3" r="5.9" class="r"/>
<circle cx="1594.4" cy="473.3" r="5.9" class="r"/>
<circle cx="1601.1" cy="473.3" r="5.9" class="r"/>
<circle cx="1607.9" cy="473.3" r="5.9" class="r"/>
<circle cx="1614.7" cy="473.3" r="5.9" class="r"/>
<circle cx="1621.5" cy="473.3" r="5.9" class="r"/>
<circle cx="1486.6" cy="437.1" r="5.9" class="b"/>
<circle cx="1493.4" cy="437.1" r="5.9" class="b"/>
<circle cx="1500.2" cy="437.1" r="5.9" class="b"/>
<circle cx="1506.9" cy="437.1" r="5.9" class="b"/>
<circle cx="1513.7" cy="437.1" r="5.9" class="b"/>
<circle cx="1486.6" cy="443.9" r="5.9" class="b"/>
<circle cx="1493.4" cy="443.9" r="5.9" class="b"/>
<circle cx="1500.2" cy="443.9" r="5.9" class="b"/>
<circle cx="1506.9" cy="443.9" r="5.9" class="b"/>
<circle cx="1513.7" cy="443.9" r="5.9" class="b"/>
<circle cx="1479.8" cy="450.7" r="5.9" class="b"/>
<circle cx="1486.6" cy="450.7" r="5.9" class="b"/>
<circle cx="1493.4" cy="450.7" r="5.9" class="b"/>
<circle cx="1500.2" cy="450.7" r="5.9" class="b"/>
<circle cx="1506.9" cy="450.7" r="5.9" class="b"/>
<circle cx="1513.7" cy="450.7" r="5.9" class="b"/>
<circle cx="1479.8" cy="457.5" r="5.9" class="b"/>
<circle cx="1486.6" cy="457.5" r="5.9" class="b"/>
<circle cx="1493.4" cy="457.5" r="5.9" class="b"/>
<circle cx="1500.2" cy="457.5" r="5.9" class="b"/>
<circle cx="1506.9" cy="457.5" r="5.9" class="b"/>
<circle cx="1513.7" cy="457.5" r="5.9" class="b"/>
<circle cx="1479.8" cy="464.3" r="5.9" class="b"/>
<circle cx="1486.6" cy="464.3" r="5.9" class="b"/>
<circle cx="1493.4" cy="464.3" r="5.9" class="b"/>
<circle cx="1500.2" cy="464.3" r="5.9" class="b"/>
<circle cx="1506.9" cy="464.3" r="5.9" class="b"/>
<circle cx="1513.7" cy="464.3" r="5.9" class="b"/>
<circle cx="1479.8" cy="471.1" r="5.9" class="b"/>
<circle cx="1486.6" cy="471.1" r="5.9" class="b"/>
<circle cx="1493.4" cy="471.1" r="5.9" class="b"/>
<circle cx="1500.2" cy="471.1" r="5.9" class="b"/>
<circle cx="1506.9" cy="471.1" r="5.9" class="b"/>
<circle cx="1513.7" cy="471.1" r="5.9" class="b"/>
<circle cx="1479.8" cy="477.9" r="5.9" class="b"/>
<circle cx="1486.6" cy="477.9" r="5.9" class="b"/>
<circle cx="1493.4" cy="477.9" r="5.9" class="b"/>
<circle cx="1500.2" cy="477.9" r="5.9" class="b"/>
<circle cx="1506.9" cy="477.9" r="5.9" class="b"/>
<circle cx="1513.7" cy="477.9" r="5.9" class="b"/>
<circle cx="1479.8" cy="484.7" r="5.9" class="b"/>
<circle cx="1486.6" cy="484.7" r="5.9" class="b"/>
<circle cx="1493.4" cy="484.7" r="5.9" class="b"/>
<circle cx="1500.2" cy="484.7" r="5.9" class="b"/>
<circle cx="1506.9" cy="484.7" r="5.9" class="b"/>
<circle cx="1513.7" cy="484.7" r="5.9" class="b"/>
<circle cx="1479.8" cy="491.5" r="5.9" class="b"/>
<circle cx="1486.6" cy="491.5" r="5.9" class="b"/>
<circle cx="1493.4" cy="491.5" r="5.9" class="b"/>
<circle cx="1500.2" cy="491.5" r="5.9" class="b"/>
<circle cx="1506.9" cy="491.5" r="5.9" class="b"/>
<circle cx="1513.7" cy="491.5" r="5.9" class="b"/>
<circle cx="1479.8" cy="498.3" r="5.9" class="b"/>
<circle cx="1486.6" cy="498.3" r="5.9" class="b"/>
<circle cx="1493.4" cy="498.3" r="5.9" class="b"/>
<circle cx="1500.2" cy="498.3" r="5.9" class="b"/>
<circle cx="1506.9" cy="498.3" r="5.9" class="b"/>
<circle cx="1513.7" cy="498.3" r="5.9" class="b"/>
<circle cx="1437" cy="458" r="5.9" class="r"/>
<circle cx="1443.8" cy="458" r="5.9" class="r"/>
<circle cx="1450.6" cy="458" r="5.9" class="r"/>
<circle cx="1457.4" cy="458" r="5.9" class="r"/>
<circle cx="1464.2" cy="458" r="5.9" class="r"/>
<circle cx="1471" cy="458" r="5.9" class="r"/>
<circle cx="1437" cy="464.8" r="5.9" class="r"/>
<circle cx="1443.8" cy="464.8" r="5.9" class="r"/>
<circle cx="1450.6" cy="464.8" r="5.9" class="r"/>
<circle cx="1457.4" cy="464.8" r="5.9" class="r"/>
<circle cx="1464.2" cy="464.8" r="5.9" class="r"/>
<circle cx="1471" cy="464.8" r="5.9" class="r"/>
<circle cx="1437" cy="471.6" r="5.9" class="r"/>
<circle cx="1443.8" cy="471.6" r="5.9" class="r"/>
<circle cx="1450.6" cy="471.6" r="5.9" class="r"/>
<circle cx="1457.4" cy="471.6" r="5.9" class="r"/>
<circle cx="1464.2" cy="471.6" r="5.9" class="r"/>
<circle cx="1471" cy="471.6" r="5.9" class="r"/>
<circle cx="1450.6" cy="478.3" r="5.9" class="r"/>
<circle cx="1457.4" cy="478.3" r="5.9" class="r"/>
<circle cx="1464.2" cy="478.3" r="5.9" class="r"/>
<circle cx="1471" cy="478.3" r="5.9" class="r"/>
<circle cx="1450.6" cy="485.1" r="5.9" class="r"/>
<circle cx="1457.4" cy="485.1" r="5.9" class="r"/>
<circle cx="1464.2" cy="485.1" r="5.9" class="r"/>
<circle cx="1471" cy="485.1" r="5.9" class="r"/>
<circle cx="1437" cy="491.9" r="5.9" class="r"/>
<circle cx="1443.8" cy="491.9" r="5.9" class="r"/>
<circle cx="1450.6" cy="491.9" r="5.9" class="r"/>
<circle cx="1457.4" cy="491.9" r="5.9" class="r"/>
<circle cx="1464.2" cy="491.9" r="5.9" class="r"/>
<circle cx="1471" cy="491.9" r="5.9" class="r"/>
<circle cx="1376.4" cy="399" r="5.9" class="b"/>
<circle cx="1391.7" cy="410.8" r="5.9" class="r"/>
<circle cx="1429.3" cy="397.7" r="5.9" class="r"/>
<circle cx="1426.6" cy="401.5" r="5.9" class="r"/>
<circle cx="1450.2" cy="399.3" r="5.9" class="r"/>
<circle cx="1446.3" cy="404.8" r="5.9" class="r"/>
<circle cx="1461.1" cy="399.3" r="5.9" class="b"/>
<circle cx="1459.8" cy="409.2" r="5.9" class="b"/>
<circle cx="1476.5" cy="408.4" r="5.9" class="r"/>
<circle cx="1431.5" cy="415.4" r="5.9" class="b"/>
<circle cx="1434.8" cy="417.4" r="5.9" class="b"/>
<circle cx="1438.7" cy="431.7" r="5.9" class="b"/>
<circle cx="1435.9" cy="425.1" r="5.9" class="r"/>
<circle cx="1429.9" cy="427.8" r="5.9" class="r"/>
<circle cx="1466.8" cy="418.5" r="5.9" class="r"/>
<circle cx="1504.4" cy="416.6" r="5.9" class="r"/>
<circle cx="1490.2" cy="426.9" r="5.9" class="r"/>
<circle cx="1374.3" cy="439.5" r="5.9" class="b"/>
<circle cx="1380" cy="450.3" r="5.9" class="r"/>
<circle cx="1390.4" cy="450.8" r="5.9" class="b"/>
<circle cx="1398.1" cy="449.2" r="5.9" class="b"/>
<circle cx="1392.1" cy="454.7" r="5.9" class="b"/>
<circle cx="1405.8" cy="438.8" r="5.9" class="r"/>
<circle cx="1410.7" cy="443.7" r="5.9" class="r"/>
<circle cx="1415.1" cy="444.8" r="5.9" class="r"/>
<circle cx="1409.6" cy="450.3" r="5.9" class="r"/>
<circle cx="1406.9" cy="454.7" r="5.9" class="b"/>
<circle cx="1421.7" cy="438.2" r="5.9" class="b"/>
<circle cx="1358.9" cy="461.8" r="5.9" class="r"/>
<circle cx="1340.6" cy="472.8" r="5.9" class="r"/>
<circle cx="1350.4" cy="471.1" r="5.9" class="r"/>
<circle cx="1343.8" cy="477.7" r="5.9" class="r"/>
<circle cx="1352.6" cy="480.4" r="5.9" class="r"/>
<circle cx="1321.9" cy="488.7" r="5.9" class="b"/>
<circle cx="1329.4" cy="492.8" r="5.9" class="b"/>
<circle cx="1372" cy="483" r="5.9" class="r"/>
<circle cx="1365.4" cy="491.7" r="5.9" class="b"/>
<circle cx="1363.6" cy="500.2" r="5.9" class="r"/>
<circle cx="1358.6" cy="506.7" r="5.9" class="r"/>
<circle cx="1383.3" cy="509.5" r="5.9" class="b"/>
<circle cx="1377.3" cy="505.3" r="5.9" class="r"/>
<circle cx="1384.2" cy="517.2" r="5.9" class="r"/>
<circle cx="1392.1" cy="483.2" r="5.9" class="r"/>
<circle cx="1396.5" cy="486.5" r="5.9" class="r"/>
<circle cx="1395.1" cy="500.2" r="5.9" class="r"/>
<circle cx="1408" cy="510.6" r="5.9" class="r"/>
<circle cx="1397" cy="515" r="5.9" class="r"/>
<circle cx="1394.3" cy="524.3" r="5.9" class="r"/>
<circle cx="1374.8" cy="524.8" r="5.9" class="b"/>
<circle cx="1349.9" cy="532.5" r="5.9" class="b"/>
<circle cx="1329.6" cy="519.7" r="5.9" class="r"/>
<circle cx="1409.6" cy="520.4" r="5.9" class="b"/>
<circle cx="1422.8" cy="519.9" r="5.9" class="b"/>
<circle cx="1428.2" cy="515" r="5.9" class="b"/>
<circle cx="1437" cy="511.7" r="5.9" class="b"/>
<circle cx="1431.5" cy="506.2" r="5.9" class="b"/>
<circle cx="1455.7" cy="513.3" r="5.9" class="b"/>
<circle cx="1469.4" cy="508.4" r="5.9" class="b"/>
<circle cx="1480.9" cy="510" r="5.9" class="b"/>
<circle cx="1475.4" cy="504" r="5.9" class="b"/>
<circle cx="1486.3" cy="437.1" r="5.9" class="b"/>
<circle cx="1502.8" cy="430.6" r="5.9" class="b"/>
<circle cx="1495.1" cy="433.8" r="5.9" class="b"/>
<circle cx="1433.7" cy="449.2" r="5.9" class="r"/>
<circle cx="1453.5" cy="434.9" r="5.9" class="r"/>
<circle cx="1463.3" cy="432.7" r="5.9" class="r"/>
<circle cx="1471.5" cy="433.8" r="5.9" class="r"/>
<circle cx="1448" cy="443.7" r="5.9" class="r"/>
<circle cx="1451.3" cy="451.4" r="5.9" class="r"/>
<circle cx="1464.4" cy="451.4" r="5.9" class="r"/>
<circle cx="1457.8" cy="458" r="5.9" class="r"/>
<circle cx="1477.6" cy="444.8" r="5.9" class="r"/>
<circle cx="1486.3" cy="449.2" r="5.9" class="r"/>
<circle cx="1477.6" cy="452.5" r="5.9" class="r"/>
<circle cx="1495.1" cy="448.1" r="5.9" class="r"/>
<circle cx="1500.6" cy="438.2" r="5.9" class="r"/>
<circle cx="1405.2" cy="475.5" r="5.9" class="b"/>
<circle cx="1404.1" cy="484.3" r="5.9" class="b"/>
<circle cx="1409.6" cy="494.1" r="5.9" class="b"/>
<circle cx="1414" cy="501.8" r="5.9" class="b"/>
<circle cx="1408.5" cy="498.5" r="5.9" class="b"/>
<circle cx="1414" cy="468.9" r="5.9" class="r"/>
<circle cx="1412.9" cy="477.7" r="5.9" class="r"/>
<circle cx="1416.2" cy="486.5" r="5.9" class="r"/>
<circle cx="1415.1" cy="473.3" r="5.9" class="r"/>
<circle cx="1419.5" cy="461.8" r="5.9" class="b"/>
<circle cx="1427.2" cy="471.7" r="5.9" class="r"/>
<circle cx="1435.9" cy="473.3" r="5.9" class="r"/>
<circle cx="1429.3" cy="489.7" r="5.9" class="r"/>
<circle cx="1438.1" cy="491.9" r="5.9" class="r"/>
<circle cx="1448" cy="494.1" r="5.9" class="r"/>
<circle cx="1453.5" cy="488.7" r="5.9" class="r"/>
<circle cx="1457.8" cy="499.6" r="5.9" class="r"/>
<circle cx="1431.5" cy="481" r="5.9" class="b"/>
<circle cx="1437" cy="461.2" r="5.9" class="r"/>
<circle cx="1442.5" cy="458" r="5.9" class="r"/>
<circle cx="1449.1" cy="455.8" r="5.9" class="r"/>
<circle cx="1444.7" cy="468.9" r="5.9" class="b"/>
<circle cx="1446.9" cy="477.7" r="5.9" class="b"/>
<circle cx="1441.4" cy="465.6" r="5.9" class="b"/>
<circle cx="1458.9" cy="466.7" r="5.9" class="r"/>
<circle cx="1464.4" cy="472.2" r="5.9" class="r"/>
<circle cx="1462.2" cy="479.9" r="5.9" class="r"/>
<circle cx="1469.9" cy="464.5" r="5.9" class="r"/>
<circle cx="1456.7" cy="474.4" r="5.9" class="r"/>
<circle cx="1455.7" cy="484.3" r="5.9" class="r"/>
<circle cx="1492.9" cy="463.4" r="5.9" class="r"/>
<circle cx="1502.8" cy="468.9" r="5.9" class="r"/>
<circle cx="1497.3" cy="458" r="5.9" class="r"/>
<circle cx="1486.3" cy="462.3" r="5.9" class="r"/>
<circle cx="1480.9" cy="461.2" r="5.9" class="b"/>
<circle cx="1479.8" cy="470" r="5.9" class="b"/>
<circle cx="1486.3" cy="475.5" r="5.9" class="b"/>
<circle cx="1475.4" cy="484.3" r="5.9" class="b"/>
<circle cx="1469.9" cy="488.7" r="5.9" class="b"/>
<circle cx="1484.1" cy="488.7" r="5.9" class="b"/>
<circle cx="1491.8" cy="483.2" r="5.9" class="b"/>
<circle cx="1497.3" cy="477.7" r="5.9" class="b"/>
<circle cx="1486.3" cy="499.6" r="5.9" class="b"/>
<circle cx="1477.6" cy="497.4" r="5.9" class="b"/>
<circle cx="1471" cy="479.9" r="5.9" class="b"/>
<circle cx="1464.4" cy="488.7" r="5.9" class="b"/>
<circle cx="1469.9" cy="495.2" r="5.9" class="r"/>
<circle cx="1430.4" cy="495.2" r="5.9" class="b"/>
<circle cx="1429.3" cy="501.8" r="5.9" class="b"/>
<circle cx="1439.2" cy="497.4" r="5.9" class="b"/>
<circle cx="1502.8" cy="449.2" r="5.9" class="b"/>
<circle cx="1508.3" cy="455.8" r="5.9" class="b"/>
<circle cx="1508.3" cy="466.7" r="5.9" class="b"/>
<circle cx="1506.1" cy="483.2" r="5.9" class="b"/>
<circle cx="1502.8" cy="475.5" r="5.9" class="b"/>
<circle cx="1497.3" cy="488.7" r="5.9" class="b"/>
<circle cx="1622.1" cy="398.8" r="5.9" class="r"/>
<circle cx="1634.1" cy="391.1" r="5.9" class="r"/>
<circle cx="1618.2" cy="387.6" r="5.9" class="r"/>
<circle cx="1536.9" cy="398.2" r="5.9" class="b"/>
<circle cx="1544.5" cy="404.8" r="5.9" class="b"/>
<circle cx="1558.5" cy="408.1" r="5.9" class="r"/>
<circle cx="1579.3" cy="408.6" r="5.9" class="b"/>
<circle cx="1583.2" cy="411.9" r="5.9" class="b"/>
<circle cx="1612.8" cy="413.6" r="5.9" class="b"/>
<circle cx="1621" cy="416.3" r="5.9" class="b"/>
<circle cx="1504.2" cy="416.9" r="5.9" class="r"/>
<circle cx="1513.9" cy="419.6" r="5.9" class="b"/>
<circle cx="1537.1" cy="418.5" r="5.9" class="r"/>
<circle cx="1528.9" cy="417.4" r="5.9" class="b"/>
<circle cx="1533.8" cy="420.7" r="5.9" class="b"/>
<circle cx="1555.8" cy="425.1" r="5.9" class="r"/>
<circle cx="1588.1" cy="421.8" r="5.9" class="r"/>
<circle cx="1585.9" cy="427.3" r="5.9" class="r"/>
<circle cx="1605.1" cy="422.3" r="5.9" class="r"/>
<circle cx="1628.7" cy="425.1" r="5.9" class="b"/>
<circle cx="1625.4" cy="424" r="5.9" class="r"/>
<circle cx="1613.9" cy="429.5" r="5.9" class="r"/>
<circle cx="1617.2" cy="436" r="5.9" class="r"/>
<circle cx="1515.2" cy="426.2" r="5.9" class="r"/>
<circle cx="1519.6" cy="426.7" r="5.9" class="b"/>
<circle cx="1490" cy="427.3" r="5.9" class="r"/>
<circle cx="1504.2" cy="429.5" r="5.9" class="b"/>
<circle cx="1531.7" cy="434.4" r="5.9" class="r"/>
<circle cx="1543.7" cy="431.7" r="5.9" class="b"/>
<circle cx="1575.5" cy="429.5" r="5.9" class="r"/>
<circle cx="1560.2" cy="430.6" r="5.9" class="b"/>
<circle cx="1571.1" cy="431.7" r="5.9" class="b"/>
<circle cx="1579.9" cy="436" r="5.9" class="b"/>
<circle cx="1568.9" cy="438.2" r="5.9" class="r"/>
<circle cx="1572.2" cy="444.8" r="5.9" class="r"/>
<circle cx="1565.6" cy="442.6" r="5.9" class="r"/>
<circle cx="1602.9" cy="437.1" r="5.9" class="b"/>
<circle cx="1595.2" cy="436" r="5.9" class="r"/>
<circle cx="1590.8" cy="441.5" r="5.9" class="r"/>
<circle cx="1631.4" cy="441.5" r="5.9" class="r"/>
<circle cx="1632.5" cy="444.8" r="5.9" class="r"/>
<circle cx="1493.3" cy="466.7" r="5.9" class="r"/>
<circle cx="1501" cy="472.2" r="5.9" class="r"/>
<circle cx="1496.6" cy="461.2" r="5.9" class="r"/>
<circle cx="1517.4" cy="447" r="5.9" class="r"/>
<circle cx="1533.8" cy="451.4" r="5.9" class="r"/>
<circle cx="1526.2" cy="449.2" r="5.9" class="r"/>
<circle cx="1538.2" cy="465.6" r="5.9" class="r"/>
<circle cx="1553.6" cy="464.5" r="5.9" class="r"/>
<circle cx="1519.6" cy="472.2" r="5.9" class="r"/>
<circle cx="1547" cy="482.1" r="5.9" class="r"/>
<circle cx="1555.8" cy="488.7" r="5.9" class="r"/>
<circle cx="1492.2" cy="491.9" r="5.9" class="r"/>
<circle cx="1501" cy="450.3" r="5.9" class="b"/>
<circle cx="1511.9" cy="455.8" r="5.9" class="b"/>
<circle cx="1522.9" cy="461.2" r="5.9" class="b"/>
<circle cx="1506.4" cy="466.7" r="5.9" class="b"/>
<circle cx="1517.4" cy="472.2" r="5.9" class="b"/>
<circle cx="1495.5" cy="477.7" r="5.9" class="b"/>
<circle cx="1506.4" cy="483.2" r="5.9" class="b"/>
<circle cx="1517.4" cy="488.7" r="5.9" class="b"/>
<circle cx="1528.4" cy="477.7" r="5.9" class="b"/>
<circle cx="1533.8" cy="472.2" r="5.9" class="b"/>
<circle cx="1539.3" cy="488.7" r="5.9" class="b"/>
<circle cx="1544.8" cy="461.2" r="5.9" class="b"/>
<circle cx="1550.3" cy="472.2" r="5.9" class="b"/>
<circle cx="1555.8" cy="455.8" r="5.9" class="b"/>
<circle cx="1561.2" cy="466.7" r="5.9" class="b"/>
<circle cx="1566.7" cy="477.7" r="5.9" class="b"/>
<circle cx="1564.5" cy="488.7" r="5.9" class="b"/>
<circle cx="1577.7" cy="461.2" r="5.9" class="b"/>
<circle cx="1581" cy="455.8" r="5.9" class="b"/>
<circle cx="1509.7" cy="444.8" r="5.9" class="b"/>
<circle cx="1503.2" cy="439.3" r="5.9" class="b"/>
<circle cx="1515.2" cy="437.1" r="5.9" class="b"/>
<circle cx="1522.9" cy="468.9" r="5.9" class="b"/>
<circle cx="1533.8" cy="458" r="5.9" class="b"/>
<circle cx="1542.6" cy="447" r="5.9" class="b"/>
<circle cx="1551.4" cy="451.4" r="5.9" class="b"/>
<circle cx="1558" cy="477.7" r="5.9" class="b"/>
<circle cx="1528.4" cy="488.7" r="5.9" class="b"/>
<circle cx="1495.5" cy="486.5" r="5.9" class="b"/>
<circle cx="1566.7" cy="458" r="5.9" class="b"/>
<circle cx="1500.4" cy="438.2" r="5.9" class="r"/>
<circle cx="1538.2" cy="465.6" r="5.9" class="r"/>
<circle cx="1553.6" cy="464.5" r="5.9" class="r"/>
<circle cx="1501" cy="471.1" r="5.9" class="r"/>
<circle cx="1494.4" cy="465.6" r="5.9" class="r"/>
<circle cx="1547" cy="483.2" r="5.9" class="r"/>
<circle cx="1554.7" cy="488.7" r="5.9" class="r"/>
<circle cx="1533.8" cy="453.6" r="5.9" class="r"/>
<circle cx="1518.5" cy="473.3" r="5.9" class="r"/>
<circle cx="1525.1" cy="484.5" r="5.9" class="r"/>
<circle cx="1577.7" cy="471.7" r="5.9" class="r"/>
<circle cx="1515.2" cy="502.9" r="5.9" class="b"/>
<circle cx="1515.8" cy="499.6" r="5.9" class="r"/>
<circle cx="1541" cy="502" r="5.9" class="r"/>
<circle cx="1576.6" cy="483.2" r="5.9" class="b"/>
<circle cx="1582.1" cy="482.1" r="5.9" class="b"/>
<circle cx="1595.2" cy="450.3" r="5.9" class="r"/>
<circle cx="1605.1" cy="458" r="5.9" class="r"/>
<circle cx="1610.6" cy="444.8" r="5.9" class="r"/>
<circle cx="1621.5" cy="449.2" r="5.9" class="r"/>
<circle cx="1627" cy="458" r="5.9" class="r"/>
<circle cx="1619.3" cy="466.7" r="5.9" class="r"/>
<circle cx="1629.2" cy="464.5" r="5.9" class="r"/>
<circle cx="1610.6" cy="461.2" r="5.9" class="r"/>
<circle cx="1585.4" cy="451.4" r="5.9" class="r"/>
<circle cx="1599.6" cy="444.8" r="5.9" class="r"/>
<circle cx="1616.1" cy="455.8" r="5.9" class="r"/>
<circle cx="1588.7" cy="458" r="5.9" class="r"/>
<circle cx="1601.8" cy="451.4" r="5.9" class="b"/>
<circle cx="1616.6" cy="453.6" r="5.9" class="b"/>
<circle cx="1588.7" cy="464.5" r="5.9" class="b"/>
<circle cx="1605.1" cy="464.5" r="5.9" class="b"/>
<circle cx="1608.4" cy="468.9" r="5.9" class="b"/>
<circle cx="1601.8" cy="474.4" r="5.9" class="b"/>
<circle cx="1595.8" cy="466.7" r="5.9" class="r"/>
<circle cx="1615" cy="476.6" r="5.9" class="r"/>
<circle cx="1619.3" cy="478.8" r="5.9" class="b"/>
<circle cx="1602.9" cy="487" r="5.9" class="r"/>
<circle cx="1597.4" cy="491.9" r="5.9" class="b"/>
<circle cx="1564.5" cy="490.8" r="5.9" class="b"/>
<circle cx="1536" cy="489.7" r="5.9" class="b"/>
<circle cx="1544.8" cy="488.7" r="5.9" class="b"/>
<circle cx="1636.9" cy="468.9" r="5.9" class="b"/>
<circle cx="1634.7" cy="477.7" r="5.9" class="b"/>
<circle cx="1648.4" cy="463.4" r="5.9" class="b"/>
<circle cx="1643.5" cy="456.9" r="5.9" class="r"/>
<circle cx="1648.9" cy="455.8" r="5.9" class="r"/>
<circle cx="1662.1" cy="458.5" r="5.9" class="r"/>
<circle cx="1674.1" cy="458.5" r="5.9" class="r"/>
<circle cx="1682.9" cy="456.9" r="5.9" class="r"/>
<circle cx="1685.7" cy="449.7" r="5.9" class="r"/>
<circle cx="1679.6" cy="436.6" r="5.9" class="r"/>
<circle cx="1672.5" cy="432.2" r="5.9" class="r"/>
<circle cx="1663.2" cy="431.7" r="5.9" class="r"/>
<circle cx="1657.7" cy="433.8" r="5.9" class="r"/>
<circle cx="1658.8" cy="445.4" r="5.9" class="r"/>
<circle cx="1650.6" cy="477.7" r="5.9" class="r"/>
</g>
<path class="ax" d="M1150.9 337.8H1642.1V740.2M1150.9 337.8L1408.2 103.1M1642.1 337.8L1899.4 103.1"/>
<g class="tk">
<text x="1150.7" y="775">−8</text>
<text x="1220.9" y="775">−6</text>
<text x="1291.2" y="775">−4</text>
<text x="1361" y="775">−2</text>
<text x="1434.3" y="775">0</text>
<text x="1504.3" y="775">2</text>
<text x="1574.2" y="775">4</text>
<text x="1644.3" y="775">6</text>
<text transform="translate(1128.5 740.7) rotate(-90)">−10</text>
<text transform="translate(1128.5 636.5) rotate(-90)">−5</text>
<text transform="translate(1128.5 533.4) rotate(-90)">0</text>
<text transform="translate(1128.5 433) rotate(-90)">5</text>
<text transform="translate(1128.5 334.8) rotate(-90)">10</text>
<text x="1684.7" y="745.4">−4</text>
<text x="1727.6" y="706.3">−2</text>
<text x="1770.5" y="667.2">0</text>
<text x="1813.3" y="628.1">2</text>
<text x="1856.2" y="588.9">4</text>
<text x="1899.1" y="549.8">6</text>
<text x="1942" y="510.7">8</text>
</g>
<text class="tl" x="1371.4" y="836.1">PC1</text>
<text class="tl tc" transform="translate(1067 543.3) rotate(-90)">PC3</text>
<text class="tl tc" transform="translate(1986.9 510.1) rotate(-90)">PC2</text>
<text class="pl" transform="translate(1041.7 43.7) scale(0.971 1.02)">B</text>
<circle cx="1404.4" cy="31.3" r="5.9" class="b"/>
<text class="lg" x="1427.7" y="40.9">Low risk</text>
<circle cx="1551.1" cy="31.3" r="5.9" class="r"/>
<text class="lg" x="1575.6" y="40.9">High risk</text>
</g>
<g id="panel-C">
<path class="grid" d="M178.1 1642.2H670M228.2 1600.2H720.1M278.3 1558.1H770.2M328.4 1516.1H820.3M210 1684.3L460.5 1474M292 1684.3L542.5 1474M373.9 1684.3L624.4 1474M455.9 1684.3L706.4 1474M537.9 1684.3L788.4 1474"/>
<path class="ax" d="M378.5 1474V1042.1H870.4V1474ZM128 1684.3L378.5 1474M619.9 1684.3L870.4 1474M128 1684.3H619.9M128 1684.3V1252.4M128 1678.8V1689.8M210 1678.8V1689.8M292 1678.8V1689.8M373.9 1678.8V1689.8M455.9 1678.8V1689.8M537.9 1678.8V1689.8M619.9 1678.8V1689.8M122.5 1684.3H133.5M122.5 1576.3H133.5M122.5 1468.3H133.5M122.5 1360.4H133.5M122.5 1252.4H133.5M614.4 1684.3H625.4M664.5 1642.2H675.5M714.6 1600.2H725.6M764.7 1558.1H775.7M814.8 1516.1H825.8M864.9 1474H875.9"/>
<g class="pts">
<circle cx="390.1" cy="1115.2" r="6" class="r"/>
<circle cx="332.2" cy="1459.5" r="6" class="r"/>
<circle cx="652.5" cy="1373.7" r="6" class="b"/>
<circle cx="650.3" cy="1377" r="6" class="b"/>
<circle cx="599.9" cy="1406.6" r="6" class="r"/>
<circle cx="624" cy="1396.7" r="6" class="r"/>
<circle cx="626.2" cy="1395.6" r="6" class="b"/>
<circle cx="665.7" cy="1381.4" r="6" class="r"/>
<circle cx="681" cy="1369.3" r="6" class="b"/>
<circle cx="647" cy="1394.5" r="6" class="r"/>
<circle cx="611.9" cy="1391.2" r="6" class="b"/>
<circle cx="605.4" cy="1401.1" r="6" class="b"/>
<circle cx="595.5" cy="1413.2" r="6" class="r"/>
<circle cx="529.7" cy="1447.7" r="6" class="r"/>
<circle cx="534.1" cy="1451.5" r="6" class="r"/>
<circle cx="546" cy="1432.9" r="6" class="b"/>
<circle cx="563.7" cy="1426.9" r="6" class="r"/>
<circle cx="565.9" cy="1428" r="6" class="b"/>
<circle cx="572.3" cy="1437.5" r="6" class="r"/>
<circle cx="573.6" cy="1421.4" r="6" class="r"/>
<circle cx="587.8" cy="1425.8" r="6" class="r"/>
<circle cx="588.9" cy="1420.8" r="6" class="r"/>
<circle cx="584.5" cy="1408.8" r="6" class="r"/>
<circle cx="592.2" cy="1406.6" r="6" class="r"/>
<circle cx="574.1" cy="1412.6" r="6" class="b"/>
<circle cx="581.2" cy="1416.5" r="6" class="b"/>
<circle cx="586.7" cy="1415.4" r="6" class="b"/>
<circle cx="591.7" cy="1413.2" r="6" class="b"/>
<circle cx="580.2" cy="1401.1" r="6" class="b"/>
<circle cx="578" cy="1409.9" r="6" class="b"/>
<circle cx="590" cy="1391.8" r="6" class="b"/>
<circle cx="595.5" cy="1389.6" r="6" class="b"/>
<circle cx="607.6" cy="1388" r="6" class="b"/>
<circle cx="601" cy="1396.7" r="6" class="b"/>
<circle cx="593.3" cy="1398.9" r="6" class="b"/>
<circle cx="601.5" cy="1392.3" r="6" class="r"/>
<circle cx="603.2" cy="1403.3" r="6" class="r"/>
<circle cx="606.5" cy="1409.9" r="6" class="r"/>
<circle cx="599.9" cy="1414.3" r="6" class="r"/>
<circle cx="613" cy="1411" r="6" class="r"/>
<circle cx="610.8" cy="1401.1" r="6" class="r"/>
<circle cx="608.7" cy="1395.6" r="6" class="r"/>
<circle cx="618.5" cy="1374.8" r="6" class="r"/>
<circle cx="615.2" cy="1385.8" r="6" class="b"/>
<circle cx="619.6" cy="1390.2" r="6" class="b"/>
<circle cx="617.4" cy="1396.7" r="6" class="b"/>
<circle cx="624" cy="1388" r="6" class="b"/>
<circle cx="618.5" cy="1403.3" r="6" class="b"/>
<circle cx="625.1" cy="1408.8" r="6" class="b"/>
<circle cx="622.9" cy="1409.9" r="6" class="r"/>
<circle cx="626.2" cy="1403.3" r="6" class="r"/>
<circle cx="628.4" cy="1385.8" r="6" class="r"/>
<circle cx="636.1" cy="1390.2" r="6" class="r"/>
<circle cx="641.5" cy="1391.2" r="6" class="r"/>
<circle cx="636.1" cy="1401.1" r="6" class="r"/>
<circle cx="631.7" cy="1402.2" r="6" class="b"/>
<circle cx="656.9" cy="1390.2" r="6" class="b"/>
<circle cx="658" cy="1381.4" r="6" class="r"/>
<circle cx="652.5" cy="1388" r="6" class="r"/>
<circle cx="661.3" cy="1385.8" r="6" class="r"/>
<circle cx="647" cy="1388" r="6" class="r"/>
<circle cx="652.5" cy="1381.4" r="6" class="r"/>
<circle cx="636.1" cy="1372.6" r="6" class="b"/>
<circle cx="644.8" cy="1369.3" r="6" class="b"/>
<circle cx="641.5" cy="1378.1" r="6" class="b"/>
<circle cx="630.6" cy="1379.2" r="6" class="b"/>
<circle cx="647" cy="1381.4" r="6" class="b"/>
<circle cx="639.3" cy="1384.7" r="6" class="b"/>
<circle cx="661.3" cy="1364.9" r="6" class="r"/>
<circle cx="674.4" cy="1362.7" r="6" class="r"/>
<circle cx="654.7" cy="1364.4" r="6" class="b"/>
<circle cx="661.3" cy="1369.3" r="6" class="b"/>
<circle cx="668.9" cy="1372.6" r="6" class="b"/>
<circle cx="663.5" cy="1377" r="6" class="b"/>
<circle cx="674.4" cy="1366" r="6" class="b"/>
<circle cx="678.8" cy="1363.8" r="6" class="b"/>
<circle cx="675.5" cy="1377" r="6" class="b"/>
<circle cx="671.1" cy="1380.3" r="6" class="b"/>
<circle cx="672.2" cy="1381.4" r="6" class="r"/>
<circle cx="683.2" cy="1374.8" r="6" class="r"/>
<circle cx="685.4" cy="1369.3" r="6" class="r"/>
<circle cx="685.4" cy="1359.5" r="6" class="r"/>
<circle cx="681" cy="1361.7" r="6" class="r"/>
<circle cx="689.8" cy="1366" r="6" class="b"/>
<circle cx="688.5" cy="1353.4" r="6" class="b"/>
<circle cx="696.3" cy="1358.4" r="6" class="r"/>
<circle cx="698.5" cy="1360.6" r="6" class="r"/>
<circle cx="694.1" cy="1363.8" r="6" class="r"/>
</g>
<path class="ax" d="M128 1252.4H619.9V1684.3M128 1252.4L378.5 1042.1M619.9 1252.4L870.4 1042.1"/>
<g class="tk">
<text x="126.8" y="1719.2">−250</text>
<text x="209" y="1719.2">−200</text>
<text x="291.3" y="1719.2">−150</text>
<text x="373.4" y="1719.2">−100</text>
<text x="458" y="1719.2">−50</text>
<text x="546.4" y="1719.2">0</text>
<text x="625.5" y="1719.2">50</text>
<text transform="translate(105.1 1684.9) rotate(-90)">−100</text>
<text transform="translate(105.1 1573.5) rotate(-90)">−50</text>
<text transform="translate(105.1 1459.9) rotate(-90)">0</text>
<text transform="translate(105.1 1355) rotate(-90)">50</text>
<text transform="translate(105.1 1250) rotate(-90)">100</text>
<text x="668.9" y="1689.6">−40</text>
<text x="719" y="1647.5">−20</text>
<text x="769.1" y="1605.5">0</text>
<text x="819.2" y="1563.4">20</text>
<text x="869.3" y="1521.4">40</text>
<text x="919.4" y="1479.3">60</text>
</g>
<text class="tl" x="348.8" y="1781.1">PC1</text>
<text class="tl tc" transform="translate(43.6 1472.3) rotate(-90)">PC3</text>
<text class="tl tc" transform="translate(969.9 1478.9) rotate(-90)">PC2</text>
<text class="pl" transform="translate(4.1 984.6) scale(0.938 1.07)">C</text>
<circle cx="383.3" cy="963.8" r="5.9" class="b"/>
<text class="lg" x="407.2" y="973.3">Low risk</text>
<circle cx="531" cy="963.8" r="5.9" class="r"/>
<text class="lg" x="555.5" y="973.3">High risk</text>
</g>
<g id="panel-D">
<path class="grid" d="M1201.7 1603.7H1681.4M1238.4 1572.2H1718.1M1275.1 1540.8H1754.8M1311.8 1509.4H1791.5M1348.5 1478H1828.2M1385.2 1446.5H1864.9M1225 1635.1L1481.9 1415.1M1284.9 1635.1L1541.8 1415.1M1344.9 1635.1L1601.8 1415.1M1404.8 1635.1L1661.8 1415.1M1464.8 1635.1L1721.7 1415.1M1524.8 1635.1L1781.7 1415.1M1584.7 1635.1L1841.6 1415.1"/>
<path class="ax" d="M1421.9 1415.1V1092.4H1901.6V1415.1ZM1165 1635.1L1421.9 1415.1M1644.7 1635.1L1901.6 1415.1M1165 1635.1H1644.7M1165 1635.1V1312.4M1165 1629.6V1640.6M1225 1629.6V1640.6M1284.9 1629.6V1640.6M1344.9 1629.6V1640.6M1404.8 1629.6V1640.6M1464.8 1629.6V1640.6M1524.8 1629.6V1640.6M1584.7 1629.6V1640.6M1644.7 1629.6V1640.6M1159.5 1635.1H1170.5M1159.5 1554.4H1170.5M1159.5 1473.8H1170.5M1159.5 1393.1H1170.5M1159.5 1312.4H1170.5M1639.2 1635.1H1650.2M1675.9 1603.7H1686.9M1712.6 1572.2H1723.6M1749.3 1540.8H1760.3M1786 1509.4H1797M1822.7 1478H1833.7M1859.4 1446.5H1870.4M1896.1 1415.1H1907.1"/>
<g class="pts">
<circle cx="1473.8" cy="1243" r="6.3" class="b"/>
<circle cx="1473.6" cy="1279.2" r="6.3" class="b"/>
<circle cx="1495.3" cy="1281.9" r="6.3" class="b"/>
<circle cx="1437.4" cy="1291.8" r="6.3" class="b"/>
<circle cx="1452.2" cy="1314.3" r="6.3" class="b"/>
<circle cx="1467.6" cy="1308.2" r="6.3" class="b"/>
<circle cx="1473.6" cy="1313.2" r="6.3" class="b"/>
<circle cx="1478" cy="1316.5" r="6.3" class="b"/>
<circle cx="1483.5" cy="1314.3" r="6.3" class="b"/>
<circle cx="1481.3" cy="1311" r="6.3" class="b"/>
<circle cx="1510.6" cy="1308.2" r="6.3" class="b"/>
<circle cx="1532.8" cy="1311" r="6.3" class="b"/>
<circle cx="1538.3" cy="1309.9" r="6.3" class="b"/>
<circle cx="1427.6" cy="1347.7" r="6.3" class="b"/>
<circle cx="1416" cy="1356.1" r="6.3" class="b"/>
<circle cx="1373.3" cy="1359" r="6.3" class="b"/>
<circle cx="1368.7" cy="1382.8" r="6.3" class="r"/>
<circle cx="1382.8" cy="1387.7" r="6.3" class="b"/>
<circle cx="1475.8" cy="1335.6" r="6.3" class="r"/>
<circle cx="1487.8" cy="1332.4" r="6.3" class="b"/>
<circle cx="1501" cy="1325.2" r="6.3" class="b"/>
<circle cx="1507.6" cy="1330.7" r="6.3" class="b"/>
<circle cx="1496.6" cy="1334" r="6.3" class="b"/>
<circle cx="1520.9" cy="1326.9" r="6.3" class="b"/>
<circle cx="1504.3" cy="1340.6" r="6.3" class="r"/>
<circle cx="1501" cy="1355.4" r="6.3" class="r"/>
<circle cx="1464.3" cy="1352.6" r="6.3" class="b"/>
<circle cx="1472.5" cy="1346.1" r="6.3" class="b"/>
<circle cx="1478" cy="1343.9" r="6.3" class="b"/>
<circle cx="1483.5" cy="1350.4" r="6.3" class="b"/>
<circle cx="1496.6" cy="1348.2" r="6.3" class="b"/>
<circle cx="1503.2" cy="1346.1" r="6.3" class="b"/>
<circle cx="1510.9" cy="1350.4" r="6.3" class="b"/>
<circle cx="1495.5" cy="1354.8" r="6.3" class="b"/>
<circle cx="1450.6" cy="1363" r="6.3" class="b"/>
<circle cx="1445.6" cy="1368" r="6.3" class="b"/>
<circle cx="1453.9" cy="1377.8" r="6.3" class="b"/>
<circle cx="1518.5" cy="1361.4" r="6.3" class="r"/>
<circle cx="1496.6" cy="1370.2" r="6.3" class="r"/>
<circle cx="1465.9" cy="1384.4" r="6.3" class="r"/>
<circle cx="1471.4" cy="1391" r="6.3" class="r"/>
<circle cx="1476.9" cy="1396.5" r="6.3" class="r"/>
<circle cx="1487.8" cy="1381.1" r="6.3" class="r"/>
<circle cx="1483.5" cy="1403.1" r="6.3" class="r"/>
<circle cx="1492.2" cy="1394.3" r="6.3" class="r"/>
<circle cx="1472.5" cy="1371.8" r="6.3" class="b"/>
<circle cx="1473.6" cy="1380" r="6.3" class="b"/>
<circle cx="1458.8" cy="1390.4" r="6.3" class="b"/>
<circle cx="1458.2" cy="1399.8" r="6.3" class="b"/>
<circle cx="1464.8" cy="1405.2" r="6.3" class="b"/>
<circle cx="1469.2" cy="1410.7" r="6.3" class="b"/>
<circle cx="1433" cy="1399.5" r="6.3" class="b"/>
<circle cx="1453.9" cy="1410.7" r="6.3" class="r"/>
<circle cx="1450.6" cy="1415.1" r="6.3" class="r"/>
<circle cx="1444" cy="1409.1" r="6.3" class="b"/>
<circle cx="1491.1" cy="1386.6" r="6.3" class="b"/>
<circle cx="1480" cy="1335" r="6.3" class="r"/>
<circle cx="1504" cy="1340.2" r="6.3" class="r"/>
<circle cx="1498.7" cy="1356" r="6.3" class="r"/>
<circle cx="1518.2" cy="1361.2" r="6.3" class="r"/>
<circle cx="1566.2" cy="1369.5" r="6.3" class="r"/>
<circle cx="1494.2" cy="1369.5" r="6.3" class="r"/>
<circle cx="1487.5" cy="1381.5" r="6.3" class="r"/>
<circle cx="1620.2" cy="1350" r="6.3" class="r"/>
<circle cx="1480" cy="1396.4" r="6.3" class="r"/>
<circle cx="1483.7" cy="1404.7" r="6.3" class="r"/>
<circle cx="1480" cy="1406.9" r="6.3" class="r"/>
<circle cx="1492.7" cy="1394.2" r="6.3" class="r"/>
<circle cx="1519" cy="1397.2" r="6.3" class="r"/>
<circle cx="1545.2" cy="1402.4" r="6.3" class="r"/>
<circle cx="1566.2" cy="1398.7" r="6.3" class="r"/>
<circle cx="1558.7" cy="1382.2" r="6.3" class="r"/>
<circle cx="1573.7" cy="1385.2" r="6.3" class="r"/>
<circle cx="1579" cy="1388.2" r="6.3" class="r"/>
<circle cx="1510.7" cy="1308.4" r="6.3" class="b"/>
<circle cx="1532.5" cy="1311" r="6.3" class="b"/>
<circle cx="1538.5" cy="1310.2" r="6.3" class="b"/>
<circle cx="1483.7" cy="1314.7" r="6.3" class="b"/>
<circle cx="1480" cy="1312.5" r="6.3" class="b"/>
<circle cx="1547.5" cy="1318.5" r="6.3" class="b"/>
<circle cx="1543.7" cy="1326" r="6.3" class="b"/>
<circle cx="1538.5" cy="1327.5" r="6.3" class="b"/>
<circle cx="1576.7" cy="1320.4" r="6.3" class="b"/>
<circle cx="1588.3" cy="1325.2" r="6.3" class="b"/>
<circle cx="1614.7" cy="1317" r="6.3" class="b"/>
<circle cx="1608.9" cy="1338.4" r="6.3" class="b"/>
<circle cx="1501.4" cy="1324.9" r="6.3" class="b"/>
<circle cx="1507.7" cy="1331.2" r="6.3" class="b"/>
<circle cx="1487.5" cy="1332" r="6.3" class="b"/>
<circle cx="1520.9" cy="1327.1" r="6.3" class="b"/>
<circle cx="1499.5" cy="1333.5" r="6.3" class="b"/>
<circle cx="1497.2" cy="1347.7" r="6.3" class="b"/>
<circle cx="1510" cy="1349.2" r="6.3" class="b"/>
<circle cx="1495" cy="1353.7" r="6.3" class="b"/>
<circle cx="1483.7" cy="1350.7" r="6.3" class="b"/>
<circle cx="1480" cy="1342.5" r="6.3" class="b"/>
<circle cx="1502.5" cy="1342.5" r="6.3" class="b"/>
<circle cx="1532.5" cy="1335" r="6.3" class="b"/>
<circle cx="1528.7" cy="1346.2" r="6.3" class="b"/>
<circle cx="1534" cy="1342.5" r="6.3" class="b"/>
<circle cx="1546" cy="1335" r="6.3" class="b"/>
<circle cx="1547.5" cy="1342.5" r="6.3" class="b"/>
<circle cx="1555" cy="1344.7" r="6.3" class="b"/>
<circle cx="1564.7" cy="1345.5" r="6.3" class="b"/>
<circle cx="1562.5" cy="1352.2" r="6.3" class="b"/>
<circle cx="1540" cy="1352.2" r="6.3" class="b"/>
<circle cx="1528.7" cy="1353.7" r="6.3" class="b"/>
<circle cx="1551.2" cy="1353.7" r="6.3" class="b"/>
<circle cx="1570" cy="1359" r="6.3" class="b"/>
<circle cx="1558.7" cy="1361.2" r="6.3" class="b"/>
<circle cx="1547.5" cy="1361.2" r="6.3" class="b"/>
<circle cx="1532.5" cy="1361.2" r="6.3" class="b"/>
<circle cx="1528" cy="1341" r="6.3" class="b"/>
<circle cx="1547.5" cy="1350" r="6.3" class="b"/>
<circle cx="1590.2" cy="1350.7" r="6.3" class="b"/>
<circle cx="1586.4" cy="1357.5" r="6.3" class="b"/>
<circle cx="1593.9" cy="1359" r="6.3" class="b"/>
<circle cx="1605.9" cy="1354.5" r="6.3" class="b"/>
<circle cx="1616.4" cy="1351.5" r="6.3" class="b"/>
<circle cx="1611.2" cy="1361.2" r="6.3" class="b"/>
<circle cx="1603.7" cy="1365" r="6.3" class="b"/>
<circle cx="1596.9" cy="1368.7" r="6.3" class="b"/>
<circle cx="1579" cy="1368" r="6.3" class="b"/>
<circle cx="1618.7" cy="1365" r="6.3" class="b"/>
<circle cx="1577.5" cy="1374" r="6.3" class="b"/>
<circle cx="1625.4" cy="1352.6" r="6.3" class="b"/>
<circle cx="1502.5" cy="1367.2" r="6.3" class="b"/>
<circle cx="1508.5" cy="1366.5" r="6.3" class="b"/>
<circle cx="1498.7" cy="1374" r="6.3" class="b"/>
<circle cx="1510" cy="1376.2" r="6.3" class="b"/>
<circle cx="1521.2" cy="1368.7" r="6.3" class="b"/>
<circle cx="1528.7" cy="1372.5" r="6.3" class="b"/>
<circle cx="1536.2" cy="1376.2" r="6.3" class="b"/>
<circle cx="1547.5" cy="1372.5" r="6.3" class="b"/>
<circle cx="1558.7" cy="1374" r="6.3" class="b"/>
<circle cx="1568.5" cy="1378.5" r="6.3" class="b"/>
<circle cx="1517.5" cy="1380" r="6.3" class="b"/>
<circle cx="1506.2" cy="1383.7" r="6.3" class="b"/>
<circle cx="1528.7" cy="1383.7" r="6.3" class="b"/>
<circle cx="1540" cy="1383.7" r="6.3" class="b"/>
<circle cx="1547.5" cy="1387.5" r="6.3" class="b"/>
<circle cx="1525" cy="1363.5" r="6.3" class="b"/>
<circle cx="1552" cy="1367.2" r="6.3" class="b"/>
<circle cx="1562.5" cy="1383" r="6.3" class="b"/>
<circle cx="1517.5" cy="1389" r="6.3" class="b"/>
<circle cx="1491.2" cy="1386.7" r="6.3" class="b"/>
<circle cx="1487.5" cy="1391.2" r="6.3" class="b"/>
<circle cx="1586.4" cy="1383.7" r="6.3" class="b"/>
<circle cx="1596.2" cy="1380" r="6.3" class="b"/>
<circle cx="1599.9" cy="1372.5" r="6.3" class="b"/>
<circle cx="1607.4" cy="1372.5" r="6.3" class="b"/>
<circle cx="1592.4" cy="1389.7" r="6.3" class="b"/>
<circle cx="1599.9" cy="1391.2" r="6.3" class="b"/>
<circle cx="1562.5" cy="1391.2" r="6.3" class="b"/>
<circle cx="1555" cy="1394.9" r="6.3" class="b"/>
<circle cx="1570" cy="1396.4" r="6.3" class="b"/>
<circle cx="1581.2" cy="1394.9" r="6.3" class="b"/>
<circle cx="1603.7" cy="1386" r="6.3" class="b"/>
<circle cx="1618.7" cy="1386" r="6.3" class="b"/>
<circle cx="1626.2" cy="1387.5" r="6.3" class="b"/>
<circle cx="1628.4" cy="1368.7" r="6.3" class="b"/>
<circle cx="1495" cy="1398.7" r="6.3" class="b"/>
<circle cx="1502.5" cy="1394.9" r="6.3" class="b"/>
<circle cx="1510" cy="1398.7" r="6.3" class="b"/>
<circle cx="1498.7" cy="1406.2" r="6.3" class="b"/>
<circle cx="1510" cy="1406.2" r="6.3" class="b"/>
<circle cx="1491.2" cy="1408.4" r="6.3" class="b"/>
<circle cx="1528.7" cy="1398.7" r="6.3" class="b"/>
<circle cx="1536.2" cy="1402.4" r="6.3" class="b"/>
<circle cx="1526.5" cy="1409.9" r="6.3" class="b"/>
<circle cx="1536.2" cy="1411.4" r="6.3" class="b"/>
<circle cx="1521.2" cy="1391.2" r="6.3" class="b"/>
<circle cx="1532.5" cy="1391.2" r="6.3" class="b"/>
<circle cx="1540" cy="1394.9" r="6.3" class="b"/>
<circle cx="1555" cy="1406.2" r="6.3" class="b"/>
<circle cx="1562.5" cy="1409.9" r="6.3" class="b"/>
<circle cx="1555" cy="1415.9" r="6.3" class="b"/>
<circle cx="1566.2" cy="1402.4" r="6.3" class="b"/>
<circle cx="1573.7" cy="1406.2" r="6.3" class="b"/>
<circle cx="1581.2" cy="1409.9" r="6.3" class="b"/>
<circle cx="1584.9" cy="1415.9" r="6.3" class="b"/>
<circle cx="1555" cy="1421.2" r="6.3" class="b"/>
<circle cx="1577.5" cy="1402.4" r="6.3" class="b"/>
<circle cx="1607.4" cy="1402.4" r="6.3" class="b"/>
<circle cx="1599.9" cy="1409.9" r="6.3" class="b"/>
<circle cx="1618.7" cy="1403.9" r="6.3" class="b"/>
<circle cx="1623.9" cy="1376.2" r="6.3" class="r"/>
<circle cx="1608.9" cy="1394.9" r="6.3" class="r"/>
<circle cx="1617.2" cy="1397.9" r="6.3" class="r"/>
<circle cx="1592.4" cy="1403.2" r="6.3" class="r"/>
<circle cx="1516" cy="1412.9" r="6.3" class="r"/>
<circle cx="1507.7" cy="1418.9" r="6.3" class="r"/>
<circle cx="1495" cy="1415.9" r="6.3" class="r"/>
<circle cx="1494.2" cy="1422.7" r="6.3" class="r"/>
<circle cx="1487.5" cy="1417.4" r="6.3" class="b"/>
<circle cx="1537" cy="1421.9" r="6.3" class="r"/>
<circle cx="1570" cy="1419.7" r="6.3" class="r"/>
<circle cx="1599.9" cy="1415.9" r="6.3" class="r"/>
<circle cx="1611.2" cy="1413.7" r="6.3" class="r"/>
<circle cx="1622.4" cy="1417.4" r="6.3" class="r"/>
<circle cx="1588.7" cy="1421.2" r="6.3" class="r"/>
<circle cx="1639.2" cy="1368" r="6.3" class="b"/>
<circle cx="1634.8" cy="1378.9" r="6.3" class="r"/>
<circle cx="1653.5" cy="1362.5" r="6.3" class="r"/>
<circle cx="1654" cy="1348.8" r="6.3" class="b"/>
<circle cx="1654.6" cy="1360.3" r="6.3" class="b"/>
<circle cx="1648" cy="1380" r="6.3" class="b"/>
<circle cx="1655.1" cy="1391" r="6.3" class="r"/>
<circle cx="1667.7" cy="1394.8" r="6.3" class="r"/>
<circle cx="1683.1" cy="1389.4" r="6.3" class="r"/>
<circle cx="1688" cy="1399.8" r="6.3" class="r"/>
<circle cx="1705.5" cy="1391.5" r="6.3" class="r"/>
<circle cx="1655.7" cy="1406.3" r="6.3" class="b"/>
<circle cx="1653.5" cy="1400.9" r="6.3" class="r"/>
<circle cx="1648" cy="1406.3" r="6.3" class="r"/>
<circle cx="1637" cy="1405.2" r="6.3" class="r"/>
<circle cx="1631.5" cy="1400.9" r="6.3" class="r"/>
<circle cx="1453.9" cy="1411" r="6.3" class="r"/>
<circle cx="1456.1" cy="1418.6" r="6.3" class="r"/>
<circle cx="1441.8" cy="1419.2" r="6.3" class="r"/>
<circle cx="1421" cy="1417.5" r="6.3" class="b"/>
<circle cx="1429.2" cy="1428" r="6.3" class="b"/>
<circle cx="1424.8" cy="1433.4" r="6.3" class="b"/>
<circle cx="1356.9" cy="1457.5" r="6.3" class="b"/>
<circle cx="1364.5" cy="1461.4" r="6.3" class="b"/>
<circle cx="1442.7" cy="1449.9" r="6.3" class="b"/>
<circle cx="1430.8" cy="1465.8" r="6.3" class="r"/>
<circle cx="1442.4" cy="1467.4" r="6.3" class="r"/>
<circle cx="1433.6" cy="1485" r="6.3" class="r"/>
<circle cx="1438.5" cy="1480" r="6.3" class="r"/>
<circle cx="1444" cy="1477.3" r="6.3" class="b"/>
<circle cx="1456.1" cy="1480" r="6.3" class="b"/>
<circle cx="1462.6" cy="1481.1" r="6.3" class="r"/>
<circle cx="1450.6" cy="1488.8" r="6.3" class="r"/>
<circle cx="1405.4" cy="1495.1" r="6.3" class="r"/>
<circle cx="1427" cy="1499.2" r="6.3" class="b"/>
<circle cx="1430.8" cy="1502.5" r="6.3" class="r"/>
<circle cx="1438" cy="1506.3" r="6.3" class="r"/>
<circle cx="1371.4" cy="1511.3" r="6.3" class="r"/>
<circle cx="1383.5" cy="1522.4" r="6.3" class="r"/>
<circle cx="1462.1" cy="1498.1" r="6.3" class="r"/>
<circle cx="1463.7" cy="1506.3" r="6.3" class="r"/>
<circle cx="1468.7" cy="1517.3" r="6.3" class="r"/>
<circle cx="1471.4" cy="1489.9" r="6.3" class="r"/>
<circle cx="1478" cy="1496.5" r="6.3" class="r"/>
<circle cx="1477.4" cy="1507.4" r="6.3" class="r"/>
<circle cx="1474.7" cy="1484.4" r="6.3" class="r"/>
<circle cx="1471.4" cy="1541.4" r="6.3" class="r"/>
<circle cx="1501.5" cy="1517.8" r="6.3" class="r"/>
<circle cx="1495.5" cy="1526.1" r="6.3" class="r"/>
<circle cx="1494.4" cy="1533.2" r="6.3" class="r"/>
<circle cx="1516.9" cy="1516.2" r="6.3" class="r"/>
<circle cx="1523.5" cy="1527.2" r="6.3" class="r"/>
<circle cx="1532.2" cy="1523.9" r="6.3" class="r"/>
<circle cx="1543.7" cy="1521.7" r="6.3" class="r"/>
<circle cx="1542.6" cy="1530.4" r="6.3" class="r"/>
<circle cx="1543.2" cy="1543" r="6.3" class="r"/>
<circle cx="1529.5" cy="1499.2" r="6.3" class="r"/>
<circle cx="1544.3" cy="1499.7" r="6.3" class="r"/>
<circle cx="1424.3" cy="1582.5" r="6.3" class="r"/>
<circle cx="1390.3" cy="1589.6" r="6.3" class="r"/>
<circle cx="1469" cy="1589.1" r="6.3" class="r"/>
<circle cx="1458.2" cy="1431.8" r="6.3" class="b"/>
<circle cx="1458.8" cy="1402.2" r="6.3" class="b"/>
<circle cx="1468.1" cy="1406.6" r="6.3" class="b"/>
<circle cx="1472.5" cy="1414.2" r="6.3" class="b"/>
<circle cx="1470.3" cy="1423" r="6.3" class="b"/>
<circle cx="1465.9" cy="1431.8" r="6.3" class="r"/>
<circle cx="1469.2" cy="1438.4" r="6.3" class="r"/>
<circle cx="1456.1" cy="1442.2" r="6.3" class="r"/>
<circle cx="1468.1" cy="1446" r="6.3" class="r"/>
<circle cx="1476.9" cy="1432.9" r="6.3" class="b"/>
<circle cx="1494.4" cy="1425.2" r="6.3" class="r"/>
<circle cx="1496.6" cy="1436.2" r="6.3" class="r"/>
<circle cx="1498.8" cy="1446" r="6.3" class="r"/>
<circle cx="1485.7" cy="1434" r="6.3" class="b"/>
<circle cx="1486.7" cy="1443.8" r="6.3" class="b"/>
<circle cx="1510.9" cy="1453.7" r="6.3" class="b"/>
<circle cx="1522.9" cy="1428.5" r="6.3" class="r"/>
<circle cx="1530.6" cy="1430.7" r="6.3" class="b"/>
<circle cx="1542.6" cy="1435.1" r="6.3" class="b"/>
<circle cx="1549.2" cy="1424.1" r="6.3" class="b"/>
<circle cx="1533.9" cy="1446" r="6.3" class="r"/>
<circle cx="1544.8" cy="1449.3" r="6.3" class="r"/>
<circle cx="1530.6" cy="1451.5" r="6.3" class="r"/>
<circle cx="1502.1" cy="1434" r="6.3" class="b"/>
<circle cx="1509.8" cy="1438.4" r="6.3" class="b"/>
<circle cx="1520.2" cy="1442.7" r="6.3" class="b"/>
<circle cx="1520.7" cy="1480.6" r="6.3" class="b"/>
<circle cx="1464.8" cy="1458.1" r="6.3" class="r"/>
<circle cx="1472.5" cy="1461.4" r="6.3" class="r"/>
<circle cx="1482.4" cy="1463.6" r="6.3" class="r"/>
<circle cx="1491.1" cy="1464.7" r="6.3" class="r"/>
<circle cx="1501" cy="1462.5" r="6.3" class="r"/>
<circle cx="1505.4" cy="1454.8" r="6.3" class="r"/>
<circle cx="1509.8" cy="1466.9" r="6.3" class="r"/>
<circle cx="1474.7" cy="1470.2" r="6.3" class="r"/>
<circle cx="1469.2" cy="1475.6" r="6.3" class="r"/>
<circle cx="1486.7" cy="1475.6" r="6.3" class="r"/>
<circle cx="1494.4" cy="1476.7" r="6.3" class="r"/>
<circle cx="1491.1" cy="1483.3" r="6.3" class="r"/>
<circle cx="1488.9" cy="1488.8" r="6.3" class="r"/>
<circle cx="1490.6" cy="1454.3" r="6.3" class="b"/>
<circle cx="1519.6" cy="1464.7" r="6.3" class="r"/>
<circle cx="1529.5" cy="1461.4" r="6.3" class="r"/>
<circle cx="1533.9" cy="1470.2" r="6.3" class="r"/>
<circle cx="1536.1" cy="1478.9" r="6.3" class="r"/>
<circle cx="1532.8" cy="1486.6" r="6.3" class="r"/>
<circle cx="1530.6" cy="1492.1" r="6.3" class="r"/>
<circle cx="1513.1" cy="1480.6" r="6.3" class="r"/>
<circle cx="1547" cy="1468" r="6.3" class="r"/>
<circle cx="1605" cy="1398.7" r="6.3" class="b"/>
<circle cx="1612.5" cy="1384.5" r="6.3" class="b"/>
<circle cx="1623.7" cy="1391.2" r="6.3" class="b"/>
<circle cx="1631.2" cy="1395" r="6.3" class="b"/>
<circle cx="1597.5" cy="1391.2" r="6.3" class="b"/>
<circle cx="1590" cy="1398.7" r="6.3" class="b"/>
<circle cx="1618.5" cy="1397.2" r="6.3" class="b"/>
<circle cx="1627.5" cy="1386" r="6.3" class="b"/>
<circle cx="1602" cy="1383.7" r="6.3" class="b"/>
<circle cx="1582.5" cy="1395" r="6.3" class="b"/>
<circle cx="1578.7" cy="1406.2" r="6.3" class="b"/>
<circle cx="1567.5" cy="1402.5" r="6.3" class="b"/>
<circle cx="1571.2" cy="1413.7" r="6.3" class="b"/>
<circle cx="1584.7" cy="1416" r="6.3" class="b"/>
<circle cx="1575" cy="1387.5" r="6.3" class="r"/>
<circle cx="1578.7" cy="1389.7" r="6.3" class="r"/>
<circle cx="1608" cy="1395" r="6.3" class="r"/>
<circle cx="1617" cy="1398.7" r="6.3" class="r"/>
<circle cx="1592.2" cy="1402.5" r="6.3" class="r"/>
<circle cx="1591.5" cy="1407.7" r="6.3" class="r"/>
<circle cx="1614" cy="1413" r="6.3" class="r"/>
<circle cx="1602" cy="1416" r="6.3" class="r"/>
<circle cx="1688.5" cy="1401.1" r="6.3" class="r"/>
<circle cx="1668.8" cy="1398.9" r="6.3" class="r"/>
<circle cx="1676.7" cy="1415.1" r="6.3" class="r"/>
<circle cx="1685.6" cy="1430.1" r="6.3" class="r"/>
<circle cx="1662.2" cy="1431.2" r="6.3" class="r"/>
<circle cx="1664.4" cy="1441.7" r="6.3" class="r"/>
<circle cx="1655.7" cy="1407.7" r="6.3" class="b"/>
<circle cx="1653.5" cy="1406.6" r="6.3" class="r"/>
<circle cx="1652.4" cy="1416.4" r="6.3" class="r"/>
<circle cx="1651.3" cy="1425.2" r="6.3" class="r"/>
<circle cx="1650.2" cy="1440.6" r="6.3" class="r"/>
<circle cx="1645.8" cy="1443.8" r="6.3" class="r"/>
<circle cx="1635.9" cy="1482.8" r="6.3" class="r"/>
<circle cx="1642.5" cy="1486" r="6.3" class="r"/>
<circle cx="1605.2" cy="1465.8" r="6.3" class="r"/>
<circle cx="1612.9" cy="1463.6" r="6.3" class="r"/>
<circle cx="1603" cy="1475.6" r="6.3" class="r"/>
<circle cx="1598.7" cy="1483.3" r="6.3" class="r"/>
<circle cx="1604.7" cy="1492.1" r="6.3" class="r"/>
<circle cx="1611.8" cy="1454.8" r="6.3" class="b"/>
<circle cx="1579.5" cy="1472.3" r="6.3" class="r"/>
<circle cx="1581.7" cy="1478.9" r="6.3" class="r"/>
<circle cx="1576.7" cy="1482.2" r="6.3" class="r"/>
<circle cx="1547.1" cy="1468" r="6.3" class="r"/>
<circle cx="1551.5" cy="1474.5" r="6.3" class="r"/>
<circle cx="1561.4" cy="1478.9" r="6.3" class="r"/>
<circle cx="1565.8" cy="1484.4" r="6.3" class="r"/>
<circle cx="1561.4" cy="1485.5" r="6.3" class="r"/>
<circle cx="1568" cy="1465.8" r="6.3" class="r"/>
<circle cx="1559.2" cy="1470.2" r="6.3" class="r"/>
<circle cx="1558.6" cy="1543.6" r="6.3" class="r"/>
<circle cx="1559.2" cy="1453.7" r="6.3" class="b"/>
<circle cx="1611.8" cy="1425.2" r="6.3" class="b"/>
<circle cx="1620.6" cy="1416.4" r="6.3" class="r"/>
<circle cx="1629.3" cy="1411" r="6.3" class="r"/>
<circle cx="1637" cy="1406.6" r="6.3" class="r"/>
<circle cx="1631.5" cy="1421.9" r="6.3" class="r"/>
<circle cx="1639.2" cy="1427.4" r="6.3" class="r"/>
<circle cx="1620.6" cy="1427.4" r="6.3" class="r"/>
<circle cx="1615.1" cy="1437.3" r="6.3" class="r"/>
<circle cx="1623.9" cy="1439.5" r="6.3" class="r"/>
<circle cx="1631.5" cy="1435.1" r="6.3" class="r"/>
<circle cx="1609.6" cy="1415.3" r="6.3" class="r"/>
<circle cx="1637" cy="1416.4" r="6.3" class="r"/>
<circle cx="1626.1" cy="1403.3" r="6.3" class="r"/>
<circle cx="1554.8" cy="1405.5" r="6.3" class="b"/>
<circle cx="1565.8" cy="1408.8" r="6.3" class="b"/>
<circle cx="1576.7" cy="1411" r="6.3" class="b"/>
<circle cx="1560.3" cy="1416.4" r="6.3" class="b"/>
<circle cx="1571.2" cy="1403.3" r="6.3" class="b"/>
<circle cx="1582.2" cy="1416.4" r="6.3" class="b"/>
<circle cx="1587.7" cy="1405.5" r="6.3" class="b"/>
<circle cx="1598.7" cy="1408.8" r="6.3" class="b"/>
<circle cx="1551.5" cy="1434" r="6.3" class="b"/>
<circle cx="1555.9" cy="1440.6" r="6.3" class="b"/>
<circle cx="1554.8" cy="1421.9" r="6.3" class="b"/>
<circle cx="1550.4" cy="1427.4" r="6.3" class="b"/>
<circle cx="1570.2" cy="1421.9" r="6.3" class="r"/>
<circle cx="1578.9" cy="1427.4" r="6.3" class="r"/>
<circle cx="1587.7" cy="1430.7" r="6.3" class="r"/>
<circle cx="1596.5" cy="1425.2" r="6.3" class="r"/>
<circle cx="1598.7" cy="1436.2" r="6.3" class="r"/>
<circle cx="1591" cy="1441.7" r="6.3" class="r"/>
<circle cx="1583.3" cy="1438.4" r="6.3" class="r"/>
<circle cx="1604.1" cy="1447.1" r="6.3" class="r"/>
<circle cx="1596.5" cy="1447.1" r="6.3" class="r"/>
<circle cx="1585.5" cy="1448.2" r="6.3" class="r"/>
<circle cx="1576.7" cy="1451.5" r="6.3" class="r"/>
<circle cx="1570.2" cy="1454.8" r="6.3" class="r"/>
<circle cx="1568" cy="1461.4" r="6.3" class="r"/>
<circle cx="1604.1" cy="1415.3" r="6.3" class="r"/>
<circle cx="1609.6" cy="1411" r="6.3" class="r"/>
<circle cx="1557" cy="1447.1" r="6.3" class="r"/>
<circle cx="1563.6" cy="1441.7" r="6.3" class="r"/>
<circle cx="1591" cy="1406.6" r="6.3" class="r"/>
<circle cx="1504.4" cy="1434" r="6.3" class="b"/>
<circle cx="1514.2" cy="1438.4" r="6.3" class="b"/>
<circle cx="1518.6" cy="1444.9" r="6.3" class="b"/>
<circle cx="1509.9" cy="1430.7" r="6.3" class="b"/>
<circle cx="1541.7" cy="1436.2" r="6.3" class="b"/>
<circle cx="1527.4" cy="1411" r="6.3" class="b"/>
<circle cx="1538.4" cy="1408.8" r="6.3" class="b"/>
<circle cx="1532.9" cy="1405.5" r="6.3" class="b"/>
<circle cx="1511" cy="1405.5" r="6.3" class="b"/>
<circle cx="1505.5" cy="1411" r="6.3" class="b"/>
<circle cx="1508.8" cy="1418.6" r="6.3" class="r"/>
<circle cx="1516.4" cy="1423" r="6.3" class="r"/>
<circle cx="1521.9" cy="1430.7" r="6.3" class="r"/>
<circle cx="1524.1" cy="1436.2" r="6.3" class="r"/>
<circle cx="1536.2" cy="1423" r="6.3" class="r"/>
<circle cx="1516.4" cy="1411" r="6.3" class="r"/>
<circle cx="1512.1" cy="1453.7" r="6.3" class="b"/>
<circle cx="1530.7" cy="1446" r="6.3" class="r"/>
<circle cx="1538.4" cy="1451.5" r="6.3" class="r"/>
<circle cx="1547.1" cy="1450.4" r="6.3" class="r"/>
<circle cx="1547.1" cy="1443.8" r="6.3" class="r"/>
<circle cx="1505.5" cy="1449.3" r="6.3" class="r"/>
<circle cx="1503.3" cy="1454.8" r="6.3" class="r"/>
<circle cx="1519.7" cy="1464.7" r="6.3" class="r"/>
<circle cx="1506.6" cy="1465.8" r="6.3" class="r"/>
<circle cx="1530.7" cy="1461.4" r="6.3" class="r"/>
<circle cx="1532.9" cy="1471.2" r="6.3" class="r"/>
<circle cx="1536.2" cy="1478.9" r="6.3" class="r"/>
<circle cx="1531.8" cy="1487.7" r="6.3" class="r"/>
<circle cx="1520.8" cy="1481.1" r="6.3" class="b"/>
<circle cx="1513.2" cy="1480.6" r="6.3" class="r"/>
</g>
<path class="ax" d="M1165 1312.4H1644.7V1635.1M1165 1312.4L1421.9 1092.4M1644.7 1312.4L1901.6 1092.4"/>
<g class="tk">
<text x="1163.4" y="1666.1">−10</text>
<text x="1226.4" y="1666.1">−8</text>
<text x="1286.3" y="1666.1">−6</text>
<text x="1346.1" y="1666.1">−4</text>
<text x="1405.9" y="1666.1">−2</text>
<text x="1469.4" y="1666.1">0</text>
<text x="1529.2" y="1666.1">2</text>
<text x="1589" y="1666.1">4</text>
<text x="1649.2" y="1666.1">6</text>
<text transform="translate(1144.6 1636.4) rotate(-90)">−4</text>
<text transform="translate(1144.6 1555.8) rotate(-90)">−2</text>
<text transform="translate(1144.6 1471.3) rotate(-90)">0</text>
<text transform="translate(1144.6 1391.3) rotate(-90)">2</text>
<text transform="translate(1144.6 1310.3) rotate(-90)">4</text>
<text x="1690.4" y="1640.1">−4</text>
<text x="1727.1" y="1608.7">−2</text>
<text x="1763.8" y="1577.2">0</text>
<text x="1800.5" y="1545.8">2</text>
<text x="1837.2" y="1514.4">4</text>
<text x="1873.9" y="1483">6</text>
<text x="1910.6" y="1451.5">8</text>
<text x="1947.3" y="1420.1">10</text>
</g>
<text class="tl" x="1377.7" y="1733.1">PC1</text>
<text class="tl tc" transform="translate(1076.5 1480.3) rotate(-90)">PC3</text>
<text class="tl tc" transform="translate(2000.4 1422.3) rotate(-90)">PC2</text>
<text class="pl" transform="translate(1053.7 970.6) scale(0.966 1.04)">D</text>
<circle cx="1426.9" cy="963.8" r="5.9" class="b"/>
<text class="lg" x="1452.6" y="974.1">Low risk</text>
<circle cx="1587.8" cy="963.8" r="5.9" class="r"/>
<text class="lg" x="1614.1" y="974.1">High risk</text>
</g>
</svg>
</body>
</html>
